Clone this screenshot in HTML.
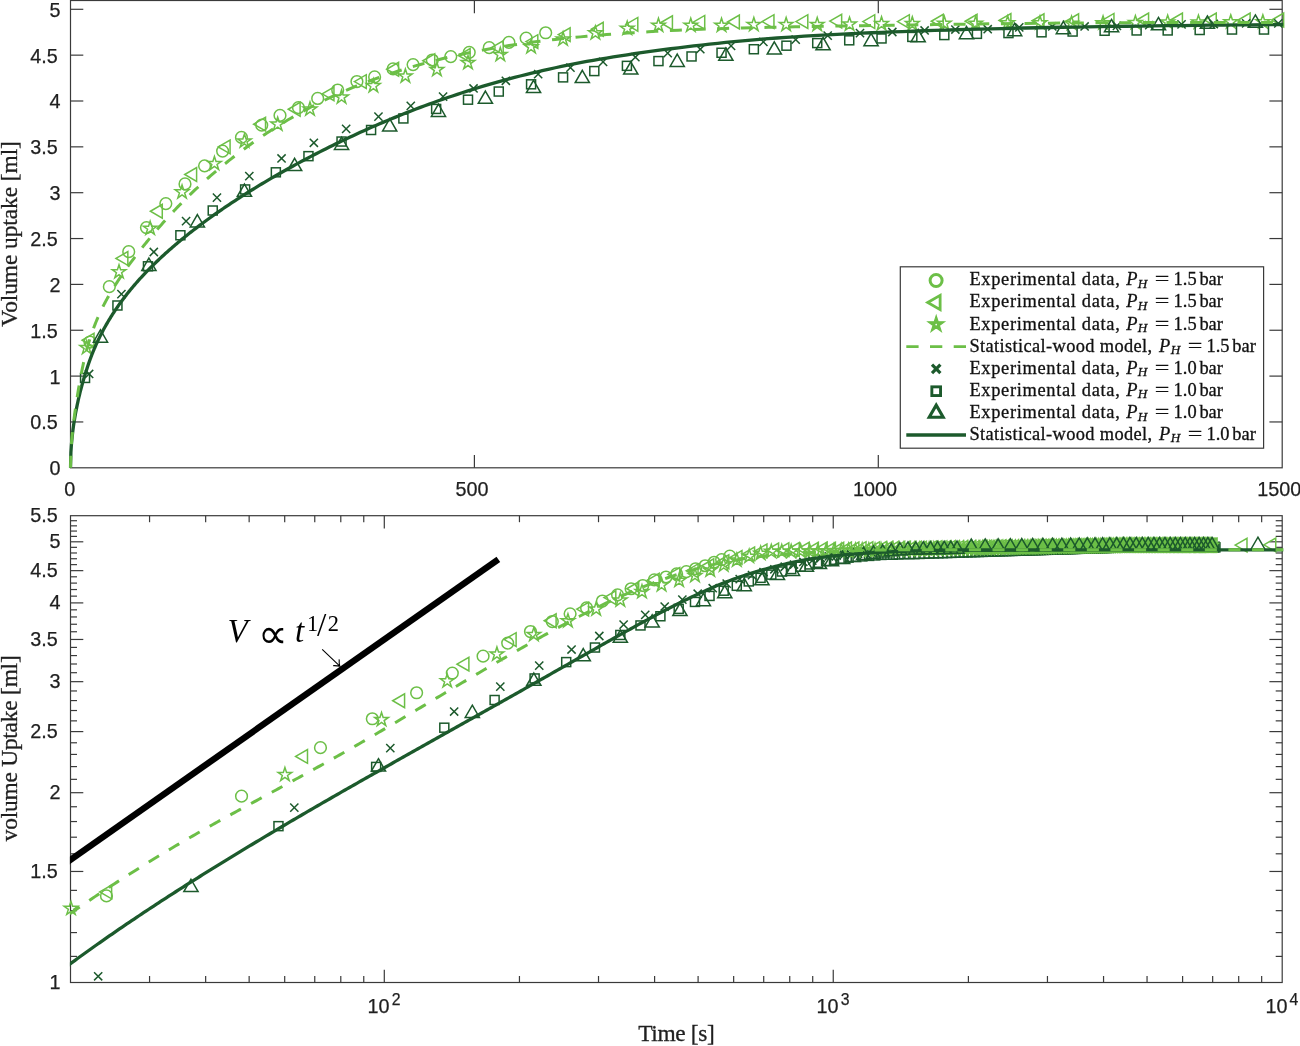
<!DOCTYPE html>
<html lang="en"><head><meta charset="utf-8"><title>Volume uptake</title>
<style>html,body{margin:0;padding:0;background:#fff}svg{display:block}text{font-kerning:normal}</style></head><body>
<svg width="1300" height="1046" viewBox="0 0 1300 1046">
<rect width="1300" height="1046" fill="#fff"/>
<!-- top panel: linear axes -->
<clipPath id="c1"><rect x="68.5" y="-1.5" width="1214.7" height="469.9"/></clipPath>
<clipPath id="c2"><rect x="69.9" y="513.7" width="1213.3" height="470.8"/></clipPath>
<rect x="70.5" y="0.5" width="1211.7" height="467.3" fill="none" stroke="#3a3a3a" stroke-width="1.2"/>
<line x1="474.4" y1="467.8" x2="474.4" y2="455" stroke="#3a3a3a" stroke-width="1.2"/>
<line x1="474.4" y1="0.5" x2="474.4" y2="13.3" stroke="#3a3a3a" stroke-width="1.2"/>
<line x1="878.3" y1="467.8" x2="878.3" y2="455" stroke="#3a3a3a" stroke-width="1.2"/>
<line x1="878.3" y1="0.5" x2="878.3" y2="13.3" stroke="#3a3a3a" stroke-width="1.2"/>
<line x1="70.5" y1="421.95" x2="83.3" y2="421.95" stroke="#3a3a3a" stroke-width="1.2"/>
<line x1="1282.2" y1="421.95" x2="1269.4" y2="421.95" stroke="#3a3a3a" stroke-width="1.2"/>
<line x1="70.5" y1="376.1" x2="83.3" y2="376.1" stroke="#3a3a3a" stroke-width="1.2"/>
<line x1="1282.2" y1="376.1" x2="1269.4" y2="376.1" stroke="#3a3a3a" stroke-width="1.2"/>
<line x1="70.5" y1="330.25" x2="83.3" y2="330.25" stroke="#3a3a3a" stroke-width="1.2"/>
<line x1="1282.2" y1="330.25" x2="1269.4" y2="330.25" stroke="#3a3a3a" stroke-width="1.2"/>
<line x1="70.5" y1="284.4" x2="83.3" y2="284.4" stroke="#3a3a3a" stroke-width="1.2"/>
<line x1="1282.2" y1="284.4" x2="1269.4" y2="284.4" stroke="#3a3a3a" stroke-width="1.2"/>
<line x1="70.5" y1="238.55" x2="83.3" y2="238.55" stroke="#3a3a3a" stroke-width="1.2"/>
<line x1="1282.2" y1="238.55" x2="1269.4" y2="238.55" stroke="#3a3a3a" stroke-width="1.2"/>
<line x1="70.5" y1="192.7" x2="83.3" y2="192.7" stroke="#3a3a3a" stroke-width="1.2"/>
<line x1="1282.2" y1="192.7" x2="1269.4" y2="192.7" stroke="#3a3a3a" stroke-width="1.2"/>
<line x1="70.5" y1="146.85" x2="83.3" y2="146.85" stroke="#3a3a3a" stroke-width="1.2"/>
<line x1="1282.2" y1="146.85" x2="1269.4" y2="146.85" stroke="#3a3a3a" stroke-width="1.2"/>
<line x1="70.5" y1="101" x2="83.3" y2="101" stroke="#3a3a3a" stroke-width="1.2"/>
<line x1="1282.2" y1="101" x2="1269.4" y2="101" stroke="#3a3a3a" stroke-width="1.2"/>
<line x1="70.5" y1="55.15" x2="83.3" y2="55.15" stroke="#3a3a3a" stroke-width="1.2"/>
<line x1="1282.2" y1="55.15" x2="1269.4" y2="55.15" stroke="#3a3a3a" stroke-width="1.2"/>
<line x1="70.5" y1="9.3" x2="83.3" y2="9.3" stroke="#3a3a3a" stroke-width="1.2"/>
<line x1="1282.2" y1="9.3" x2="1269.4" y2="9.3" stroke="#3a3a3a" stroke-width="1.2"/>
<g fill="none" stroke="#6cbf47" stroke-width="1.5" stroke-linejoin="miter">
<circle cx="89.93" cy="341.99" r="5.85"/><circle cx="109.34" cy="286.7" r="5.85"/><circle cx="128.72" cy="251.64" r="5.85"/><circle cx="146.46" cy="227.55" r="5.85"/><circle cx="165.84" cy="203.62" r="5.85"/><circle cx="184.99" cy="183.93" r="5.85"/><circle cx="204.57" cy="165.83" r="5.85"/><circle cx="222.61" cy="151.06" r="5.85"/><circle cx="241.45" cy="137.42" r="5.85"/><circle cx="261.72" cy="125.14" r="5.85"/><circle cx="280" cy="115.38" r="5.85"/><circle cx="298.46" cy="107.69" r="5.85"/><circle cx="317.69" cy="98.46" r="5.85"/><circle cx="337.69" cy="90" r="5.85"/><circle cx="356.92" cy="81.54" r="5.85"/><circle cx="374.62" cy="76.92" r="5.85"/><circle cx="393.08" cy="68.92" r="5.85"/><circle cx="413.08" cy="64.62" r="5.85"/><circle cx="432.31" cy="60" r="5.85"/><circle cx="450.77" cy="56.62" r="5.85"/><circle cx="469.23" cy="52.31" r="5.85"/><circle cx="489.23" cy="47.69" r="5.85"/><circle cx="508.92" cy="42.31" r="5.85"/><circle cx="526.15" cy="38.15" r="5.85"/><circle cx="545.69" cy="32.77" r="5.85"/>
</g>
<g fill="none" stroke="#6cbf47" stroke-width="1.5" stroke-linejoin="miter">
<path d="M82.14 340.15L94 333.3L94 347Z"/><path d="M115.97 258.45L127.84 251.6L127.84 265.3Z"/><path d="M150.42 211.23L162.28 204.38L162.28 218.08Z"/><path d="M184.74 174.52L196.6 167.67L196.6 181.37Z"/><path d="M218.22 146.94L230.08 140.09L230.08 153.79Z"/><path d="M253.66 124.17L265.52 117.32L265.52 131.02Z"/><path d="M288.24 109.23L300.11 102.38L300.11 116.08Z"/><path d="M322.09 93.85L333.95 87L333.95 100.7Z"/><path d="M354.4 81.54L366.26 74.69L366.26 88.39Z"/><path d="M386.71 69.23L398.57 62.38L398.57 76.08Z"/><path d="M422.86 60.77L434.72 53.92L434.72 67.62Z"/><path d="M458.24 55.38L470.11 48.53L470.11 62.23Z"/><path d="M491.32 47.69L503.19 40.84L503.19 54.54Z"/><path d="M525.94 41.54L537.8 34.69L537.8 48.39Z"/><path d="M558.24 34.62L570.11 27.77L570.11 41.47Z"/><path d="M591.32 29.23L603.19 22.38L603.19 36.08Z"/><path d="M625.94 24.31L637.8 17.46L637.8 31.16Z"/><path d="M660.55 22.77L672.42 15.92L672.42 29.62Z"/><path d="M692.86 22.31L704.72 15.46L704.72 29.16Z"/><path d="M727.48 22L739.34 15.15L739.34 28.85Z"/><path d="M762.09 21.54L773.95 14.69L773.95 28.39Z"/><path d="M795.94 21.54L807.8 14.69L807.8 28.39Z"/><path d="M829.78 21.08L841.65 14.23L841.65 27.93Z"/><path d="M862.86 21.54L874.72 14.69L874.72 28.39Z"/><path d="M897.48 21.54L909.34 14.69L909.34 28.39Z"/><path d="M931.32 21.23L943.19 14.38L943.19 28.08Z"/><path d="M965.17 21.23L977.03 14.38L977.03 28.08Z"/><path d="M999.01 20.46L1010.88 13.61L1010.88 27.31Z"/><path d="M1032.09 20.77L1043.95 13.92L1043.95 27.62Z"/><path d="M1066.71 20.77L1078.57 13.92L1078.57 27.62Z"/><path d="M1102.09 20.31L1113.95 13.46L1113.95 27.16Z"/><path d="M1136.71 20L1148.57 13.15L1148.57 26.85Z"/><path d="M1170.55 20L1182.42 13.15L1182.42 26.85Z"/><path d="M1204.4 20L1216.26 13.15L1216.26 26.85Z"/><path d="M1238.24 20L1250.11 13.15L1250.11 26.85Z"/><path d="M1271.77 20L1283.63 13.15L1283.63 26.85Z"/>
</g>
<g fill="none" stroke="#6cbf47" stroke-width="1.5" stroke-linejoin="miter">
<path d="M86.7 340.47L88.31 345.45L93.54 345.45L89.31 348.52L90.93 353.5L86.7 350.42L82.46 353.5L84.08 348.52L79.85 345.45L85.08 345.45Z"/><path d="M119.02 264.68L120.64 269.65L125.87 269.65L121.64 272.73L123.25 277.7L119.02 274.63L114.79 277.7L116.41 272.73L112.18 269.65L117.41 269.65Z"/><path d="M150.14 221.16L151.76 226.14L156.99 226.14L152.76 229.21L154.38 234.19L150.14 231.11L145.91 234.19L147.53 229.21L143.3 226.14L148.53 226.14Z"/><path d="M182.05 184.9L183.67 189.87L188.9 189.87L184.67 192.95L186.28 197.92L182.05 194.85L177.82 197.92L179.44 192.95L175.2 189.87L180.43 189.87Z"/><path d="M214.43 156.41L216.05 161.39L221.28 161.39L217.05 164.46L218.66 169.44L214.43 166.36L210.2 169.44L211.82 164.46L207.58 161.39L212.82 161.39Z"/><path d="M244.44 133.92L246.06 138.89L251.29 138.89L247.06 141.97L248.67 146.94L244.44 143.87L240.21 146.94L241.83 141.97L237.59 138.89L242.82 138.89Z"/><path d="M277.69 117.11L279.31 122.08L284.54 122.08L280.31 125.16L281.92 130.13L277.69 127.06L273.46 130.13L275.08 125.16L270.84 122.08L276.08 122.08Z"/><path d="M310 102.03L311.62 107.01L316.85 107.01L312.62 110.08L314.23 115.06L310 111.98L305.77 115.06L307.38 110.08L303.15 107.01L308.38 107.01Z"/><path d="M341.54 90.03L343.16 95.01L348.39 95.01L344.15 98.08L345.77 103.06L341.54 99.98L337.31 103.06L338.92 98.08L334.69 95.01L339.92 95.01Z"/><path d="M373.38 78.65L375 83.62L380.23 83.62L376 86.7L377.62 91.67L373.38 88.6L369.15 91.67L370.77 86.7L366.54 83.62L371.77 83.62Z"/><path d="M405.38 68.95L407 73.93L412.23 73.93L408 77L409.62 81.98L405.38 78.9L401.15 81.98L402.77 77L398.54 73.93L403.77 73.93Z"/><path d="M436.92 62.49L438.54 67.47L443.77 67.47L439.54 70.54L441.16 75.52L436.92 72.44L432.69 75.52L434.31 70.54L430.08 67.47L435.31 67.47Z"/><path d="M468 55.57L469.62 60.54L474.85 60.54L470.62 63.62L472.23 68.59L468 65.52L463.77 68.59L465.38 63.62L461.15 60.54L466.38 60.54Z"/><path d="M500.31 47.42L501.92 52.39L507.16 52.39L502.92 55.47L504.54 60.44L500.31 57.37L496.08 60.44L497.69 55.47L493.46 52.39L498.69 52.39Z"/><path d="M531.08 39.72L532.69 44.7L537.92 44.7L533.69 47.77L535.31 52.75L531.08 49.67L526.84 52.75L528.46 47.77L524.23 44.7L529.46 44.7Z"/><path d="M563.08 32.03L564.69 37.01L569.92 37.01L565.69 40.08L567.31 45.06L563.08 41.98L558.84 45.06L560.46 40.08L556.23 37.01L561.46 37.01Z"/><path d="M595.38 25.88L597 30.85L602.23 30.85L598 33.93L599.62 38.9L595.38 35.83L591.15 38.9L592.77 33.93L588.54 30.85L593.77 30.85Z"/><path d="M627.23 21.26L628.85 26.24L634.08 26.24L629.85 29.31L631.46 34.29L627.23 31.21L623 34.29L624.61 29.31L620.38 26.24L625.61 26.24Z"/><path d="M658.46 18.18L660.08 23.16L665.31 23.16L661.08 26.23L662.69 31.21L658.46 28.14L654.23 31.21L655.85 26.23L651.61 23.16L656.84 23.16Z"/><path d="M690.77 18.18L692.39 23.16L697.62 23.16L693.39 26.23L695 31.21L690.77 28.14L686.54 31.21L688.15 26.23L683.92 23.16L689.15 23.16Z"/><path d="M721.54 18.18L723.16 23.16L728.39 23.16L724.15 26.23L725.77 31.21L721.54 28.14L717.31 31.21L718.92 26.23L714.69 23.16L719.92 23.16Z"/><path d="M753.85 17.42L755.46 22.39L760.69 22.39L756.46 25.47L758.08 30.44L753.85 27.37L749.61 30.44L751.23 25.47L747 22.39L752.23 22.39Z"/><path d="M786.15 17.42L787.77 22.39L793 22.39L788.77 25.47L790.39 30.44L786.15 27.37L781.92 30.44L783.54 25.47L779.31 22.39L784.54 22.39Z"/><path d="M817.23 17.42L818.85 22.39L824.08 22.39L819.85 25.47L821.46 30.44L817.23 27.37L813 30.44L814.61 25.47L810.38 22.39L815.61 22.39Z"/><path d="M849.54 17.11L851.16 22.08L856.39 22.08L852.15 25.16L853.77 30.13L849.54 27.06L845.31 30.13L846.92 25.16L842.69 22.08L847.92 22.08Z"/><path d="M881.54 16.65L883.16 21.62L888.39 21.62L884.15 24.7L885.77 29.67L881.54 26.6L877.31 29.67L878.92 24.7L874.69 21.62L879.92 21.62Z"/><path d="M912.31 16.65L913.92 21.62L919.16 21.62L914.92 24.7L916.54 29.67L912.31 26.6L908.08 29.67L909.69 24.7L905.46 21.62L910.69 21.62Z"/><path d="M944.31 16.18L945.92 21.16L951.16 21.16L946.92 24.23L948.54 29.21L944.31 26.14L940.08 29.21L941.69 24.23L937.46 21.16L942.69 21.16Z"/><path d="M975.69 16.18L977.31 21.16L982.54 21.16L978.31 24.23L979.92 29.21L975.69 26.14L971.46 29.21L973.08 24.23L968.84 21.16L974.08 21.16Z"/><path d="M1007.69 15.88L1009.31 20.85L1014.54 20.85L1010.31 23.93L1011.92 28.9L1007.69 25.83L1003.46 28.9L1005.08 23.93L1000.84 20.85L1006.08 20.85Z"/><path d="M1040 15.88L1041.62 20.85L1046.85 20.85L1042.62 23.93L1044.23 28.9L1040 25.83L1035.77 28.9L1037.38 23.93L1033.15 20.85L1038.38 20.85Z"/><path d="M1071.54 16.18L1073.16 21.16L1078.39 21.16L1074.15 24.23L1075.77 29.21L1071.54 26.14L1067.31 29.21L1068.92 24.23L1064.69 21.16L1069.92 21.16Z"/><path d="M1103.08 15.88L1104.69 20.85L1109.92 20.85L1105.69 23.93L1107.31 28.9L1103.08 25.83L1098.84 28.9L1100.46 23.93L1096.23 20.85L1101.46 20.85Z"/><path d="M1135.38 15.57L1137 20.54L1142.23 20.54L1138 23.62L1139.62 28.59L1135.38 25.52L1131.15 28.59L1132.77 23.62L1128.54 20.54L1133.77 20.54Z"/><path d="M1167.69 15.11L1169.31 20.08L1174.54 20.08L1170.31 23.16L1171.92 28.13L1167.69 25.06L1163.46 28.13L1165.08 23.16L1160.84 20.08L1166.08 20.08Z"/><path d="M1198.46 15.11L1200.08 20.08L1205.31 20.08L1201.08 23.16L1202.69 28.13L1198.46 25.06L1194.23 28.13L1195.85 23.16L1191.61 20.08L1196.84 20.08Z"/><path d="M1230.77 14.8L1232.39 19.77L1237.62 19.78L1233.39 22.85L1235 27.82L1230.77 24.75L1226.54 27.82L1228.15 22.85L1223.92 19.78L1229.15 19.77Z"/><path d="M1262.84 14.8L1264.46 19.77L1269.69 19.78L1265.45 22.85L1267.07 27.82L1262.84 24.75L1258.61 27.82L1260.22 22.85L1255.99 19.78L1261.22 19.77Z"/>
</g>
<g fill="none" stroke="#1c5a2c" stroke-width="1.5" stroke-linejoin="miter">
<path d="M85.02 369.89L93.22 378.09M85.02 378.09L93.22 369.89"/><path d="M117.32 290.07L125.52 298.27M117.32 298.27L125.52 290.07"/><path d="M149.71 247.9L157.91 256.1M149.71 256.1L157.91 247.9"/><path d="M181.98 217.03L190.18 225.23M181.98 225.23L190.18 217.03"/><path d="M212.85 193.52L221.05 201.72M212.85 201.72L221.05 193.52"/><path d="M245.21 172.07L253.41 180.27M245.21 180.27L253.41 172.07"/><path d="M277.44 154.36L285.64 162.56M277.44 162.56L285.64 154.36"/><path d="M309.75 138.67L317.95 146.87M309.75 146.87L317.95 138.67"/><path d="M342.05 124.82L350.25 133.02M342.05 133.02L350.25 124.82"/><path d="M374.36 112.52L382.56 120.72M374.36 120.72L382.56 112.52"/><path d="M406.67 101.75L414.87 109.95M406.67 109.95L414.87 101.75"/><path d="M438.98 92.52L447.18 100.72M438.98 100.72L447.18 92.52"/><path d="M469.44 84.36L477.64 92.56M469.44 92.56L477.64 84.36"/><path d="M501.75 76.67L509.95 84.87M501.75 84.87L509.95 76.67"/><path d="M534.05 70.05L542.25 78.25M534.05 78.25L542.25 70.05"/><path d="M566.36 63.59L574.56 71.79M566.36 71.79L574.56 63.59"/><path d="M598.98 57.75L607.18 65.95M598.98 65.95L607.18 57.75"/><path d="M631.28 53.13L639.48 61.33M631.28 61.33L639.48 53.13"/><path d="M663.59 48.98L671.79 57.18M663.59 57.18L671.79 48.98"/><path d="M696.21 45.13L704.41 53.33M696.21 53.33L704.41 45.13"/><path d="M726.98 41.75L735.18 49.95M726.98 49.95L735.18 41.75"/><path d="M759.28 37.75L767.48 45.95M759.28 45.95L767.48 37.75"/><path d="M791.59 35.59L799.79 43.79M791.59 43.79L799.79 35.59"/><path d="M823.59 31.59L831.79 39.79M823.59 39.79L831.79 31.59"/><path d="M855.9 28.98L864.1 37.18M855.9 37.18L864.1 28.98"/><path d="M888.21 27.9L896.41 36.1M888.21 36.1L896.41 27.9"/><path d="M920.52 26.36L928.72 34.56M920.52 34.56L928.72 26.36"/><path d="M951.28 25.44L959.48 33.64M951.28 33.64L959.48 25.44"/><path d="M983.59 25.13L991.79 33.33M983.59 33.33L991.79 25.13"/><path d="M1015.13 23.28L1023.33 31.48M1015.13 31.48L1023.33 23.28"/><path d="M1048.21 22.36L1056.41 30.56M1048.21 30.56L1056.41 22.36"/><path d="M1080.52 22.36L1088.72 30.56M1080.52 30.56L1088.72 22.36"/><path d="M1112.82 21.75L1121.02 29.95M1112.82 29.95L1121.02 21.75"/><path d="M1145.13 21.13L1153.33 29.33M1145.13 29.33L1153.33 21.13"/><path d="M1177.44 20.21L1185.64 28.41M1177.44 28.41L1185.64 20.21"/><path d="M1209.75 19.9L1217.95 28.1M1209.75 28.1L1217.95 19.9"/><path d="M1242.05 19.28L1250.25 27.48M1242.05 27.48L1250.25 19.28"/><path d="M1274.2 19.28L1282.4 27.48M1274.2 27.48L1282.4 19.28"/>
</g>
<g fill="none" stroke="#1c5a2c" stroke-width="1.5" stroke-linejoin="miter">
<rect x="80.54" y="373.43" width="9.0" height="9.0"/><rect x="112.94" y="300.99" width="9.0" height="9.0"/><rect x="143.47" y="261.8" width="9.0" height="9.0"/><rect x="175.89" y="230.76" width="9.0" height="9.0"/><rect x="208.24" y="206.01" width="9.0" height="9.0"/><rect x="240.63" y="184.95" width="9.0" height="9.0"/><rect x="271.35" y="167.81" width="9.0" height="9.0"/><rect x="303.96" y="151.65" width="9.0" height="9.0"/><rect x="337.04" y="137.04" width="9.0" height="9.0"/><rect x="366.58" y="125.5" width="9.0" height="9.0"/><rect x="398.88" y="113.96" width="9.0" height="9.0"/><rect x="431.65" y="104.42" width="9.0" height="9.0"/><rect x="463.5" y="95.19" width="9.0" height="9.0"/><rect x="494.27" y="87.04" width="9.0" height="9.0"/><rect x="526.58" y="79.81" width="9.0" height="9.0"/><rect x="558.58" y="72.88" width="9.0" height="9.0"/><rect x="589.81" y="66.58" width="9.0" height="9.0"/><rect x="622.42" y="61.35" width="9.0" height="9.0"/><rect x="653.96" y="56.58" width="9.0" height="9.0"/><rect x="687.04" y="51.96" width="9.0" height="9.0"/><rect x="717.04" y="48.27" width="9.0" height="9.0"/><rect x="749.35" y="44.73" width="9.0" height="9.0"/><rect x="781.96" y="41.19" width="9.0" height="9.0"/><rect x="812.73" y="38.58" width="9.0" height="9.0"/><rect x="844.73" y="35.81" width="9.0" height="9.0"/><rect x="877.04" y="33.96" width="9.0" height="9.0"/><rect x="907.81" y="32.42" width="9.0" height="9.0"/><rect x="939.81" y="30.58" width="9.0" height="9.0"/><rect x="972.42" y="29.35" width="9.0" height="9.0"/><rect x="1003.96" y="28.58" width="9.0" height="9.0"/><rect x="1037.04" y="27.81" width="9.0" height="9.0"/><rect x="1068.12" y="27.04" width="9.0" height="9.0"/><rect x="1100.12" y="26.27" width="9.0" height="9.0"/><rect x="1132.12" y="25.96" width="9.0" height="9.0"/><rect x="1163.19" y="25.96" width="9.0" height="9.0"/><rect x="1195.19" y="25.5" width="9.0" height="9.0"/><rect x="1227.5" y="25.04" width="9.0" height="9.0"/><rect x="1259.49" y="25.04" width="9.0" height="9.0"/>
</g>
<g fill="none" stroke="#1c5a2c" stroke-width="1.5" stroke-linejoin="miter">
<path d="M100.47 329.85L107.57 342.14L93.37 342.14Z"/><path d="M148.9 258.1L156 270.4L141.8 270.4Z"/><path d="M197.36 214.58L204.46 226.88L190.26 226.88Z"/><path d="M244.44 184.06L251.54 196.35L237.34 196.35Z"/><path d="M294.62 158.26L301.72 170.56L287.52 170.56Z"/><path d="M341.54 137.19L348.64 149.48L334.44 149.48Z"/><path d="M389.69 118.72L396.79 131.02L382.59 131.02Z"/><path d="M438.46 104.11L445.56 116.41L431.36 116.41Z"/><path d="M485.38 91.03L492.48 103.33L478.28 103.33Z"/><path d="M533.54 80.26L540.64 92.56L526.44 92.56Z"/><path d="M582.31 70.26L589.41 82.56L575.21 82.56Z"/><path d="M630.77 61.8L637.87 74.1L623.67 74.1Z"/><path d="M677.23 54.11L684.33 66.41L670.13 66.41Z"/><path d="M725.85 47.96L732.95 60.25L718.75 60.25Z"/><path d="M774.31 41.8L781.41 54.1L767.21 54.1Z"/><path d="M823.08 37.49L830.18 49.79L815.98 49.79Z"/><path d="M871.08 33.34L878.18 45.64L863.98 45.64Z"/><path d="M918.15 29.49L925.25 41.79L911.05 41.79Z"/><path d="M966.46 26.42L973.56 38.71L959.36 38.71Z"/><path d="M1014.62 23.34L1021.72 35.64L1007.52 35.64Z"/><path d="M1063.38 21.34L1070.48 33.64L1056.28 33.64Z"/><path d="M1111.54 19.49L1118.64 31.79L1104.44 31.79Z"/><path d="M1158.46 17.49L1165.56 29.79L1151.36 29.79Z"/><path d="M1207.38 15.96L1214.48 28.25L1200.28 28.25Z"/><path d="M1255.38 14.88L1262.48 27.18L1248.28 27.18Z"/>
</g>
<g clip-path="url(#c1)">
<path d="M70.5 467.8L70.9 452.49L71.31 446.13L71.71 441.25L72.12 437.12L72.52 433.48L72.92 430.19L73.33 427.15L73.73 424.32L74.14 421.66L74.54 419.14L74.94 416.74L75.35 414.44L75.75 412.24L76.15 410.12L76.56 408.06L76.96 406.08L77.37 404.15L77.77 402.28L78.17 400.45L78.58 398.68L78.98 396.94L79.39 395.25L79.79 393.59L80.19 391.97L80.6 390.38L81 388.82L81.41 387.29L81.81 385.79L82.21 384.32L82.62 382.87L83.02 381.44L83.42 380.04L83.83 378.66L84.23 377.3L84.64 375.96L85.04 374.64L85.44 373.35L85.85 372.07L86.25 370.81L86.66 369.57L86.86 368.92L87.07 368.27L87.28 367.62L87.49 366.97L87.7 366.32L87.92 365.66L88.14 365L88.36 364.35L88.59 363.69L88.82 363.02L89.05 362.36L89.28 361.69L89.52 361.03L89.76 360.36L90 359.69L90.25 359.01L90.5 358.34L90.75 357.66L91.01 356.98L91.27 356.3L91.53 355.62L91.79 354.93L92.06 354.25L92.34 353.56L92.61 352.87L92.89 352.18L93.17 351.48L93.46 350.78L93.75 350.09L94.04 349.38L94.34 348.68L94.64 347.98L94.95 347.27L95.26 346.56L95.57 345.85L95.89 345.13L96.21 344.42L96.53 343.7L96.86 342.98L97.19 342.25L97.53 341.53L97.87 340.8L98.22 340.07L98.57 339.33L98.92 338.6L99.28 337.86L99.64 337.12L100.01 336.38L100.38 335.63L100.76 334.89L101.14 334.14L101.53 333.38L101.92 332.63L102.32 331.87L102.72 331.11L103.13 330.34L103.54 329.58L103.96 328.81L104.38 328.04L104.81 327.26L105.24 326.49L105.68 325.71L106.13 324.93L106.58 324.14L107.03 323.35L107.49 322.56L107.96 321.77L108.43 320.97L108.91 320.17L109.4 319.37L109.89 318.56L110.39 317.76L110.89 316.94L111.4 316.13L111.92 315.31L112.44 314.49L112.97 313.67L113.51 312.84L114.05 312.01L114.6 311.18L115.16 310.35L115.72 309.51L116.29 308.66L116.87 307.82L117.46 306.97L118.05 306.12L118.65 305.26L119.26 304.41L119.87 303.54L120.5 302.68L121.13 301.81L121.77 300.94L122.42 300.06L123.07 299.19L123.74 298.31L124.41 297.42L125.09 296.53L125.78 295.64L126.48 294.74L127.18 293.85L127.9 292.94L128.62 292.04L129.36 291.13L130.1 290.21L130.85 289.3L131.62 288.38L132.39 287.45L133.17 286.53L133.96 285.59L134.76 284.66L135.58 283.72L136.4 282.78L137.23 281.83L138.07 280.88L138.93 279.93L139.79 278.97L140.67 278.01L141.55 277.04L142.45 276.07L143.36 275.1L144.28 274.12L145.21 273.13L146.15 272.15L147.11 271.15L148.08 270.16L149.06 269.16L150.05 268.15L151.05 267.14L152.07 266.13L153.1 265.11L154.15 264.09L155.2 263.06L156.27 262.03L157.36 260.99L158.45 259.94L159.56 258.9L160.69 257.84L161.83 256.79L162.98 255.72L164.15 254.66L165.33 253.58L166.53 252.5L167.74 251.42L168.97 250.33L170.22 249.24L171.47 248.14L172.75 247.03L174.04 245.92L175.35 244.81L176.67 243.68L178.01 242.56L179.37 241.42L180.75 240.28L182.14 239.14L183.55 237.99L184.98 236.83L186.42 235.67L187.89 234.5L189.37 233.33L190.87 232.15L192.39 230.96L193.93 229.77L195.49 228.57L197.07 227.36L198.67 226.15L200.29 224.93L201.93 223.71L203.59 222.48L205.27 221.24L206.97 220L208.7 218.75L210.44 217.49L212.21 216.22L214 214.95L215.81 213.68L217.65 212.39L219.5 211.1L221.39 209.8L223.29 208.5L225.22 207.18L227.18 205.87L229.16 204.54L231.16 203.21L233.19 201.86L235.24 200.52L237.32 199.16L239.43 197.8L241.57 196.43L243.73 195.05L245.91 193.67L248.13 192.27L250.37 190.87L252.65 189.47L254.95 188.05L257.28 186.63L259.64 185.2L262.02 183.76L264.44 182.32L266.89 180.87L269.37 179.41L271.89 177.94L274.43 176.46L277.01 174.98L279.61 173.49L282.26 172L284.93 170.49L287.64 168.98L290.38 167.46L293.16 165.94L295.97 164.4L298.82 162.86L301.7 161.31L304.62 159.76L307.58 158.2L310.57 156.63L313.61 155.06L316.68 153.48L319.79 151.89L322.94 150.29L326.12 148.69L329.35 147.08L332.62 145.46L335.93 143.84L339.29 142.21L342.68 140.58L346.12 138.94L349.6 137.3L353.13 135.65L356.7 134L360.31 132.34L363.97 130.69L367.68 129.03L371.43 127.36L375.23 125.7L379.08 124.04L382.98 122.37L386.93 120.7L390.92 119.04L394.97 117.37L399.07 115.7L403.22 114.04L407.42 112.38L411.68 110.72L415.99 109.06L420.35 107.4L424.77 105.75L429.24 104.1L433.78 102.46L438.36 100.82L443.01 99.19L447.72 97.56L452.48 95.95L457.31 94.34L462.19 92.74L467.14 91.15L472.15 89.57L477.22 88L482.36 86.45L487.56 84.91L492.83 83.38L498.16 81.87L503.57 80.38L509.04 78.9L514.57 77.43L520.18 75.99L525.86 74.57L531.62 73.16L537.44 71.78L543.34 70.41L549.31 69.07L555.36 67.75L561.48 66.45L567.68 65.18L573.96 63.93L580.32 62.7L586.76 61.49L593.28 60.32L599.89 59.16L606.57 58.03L613.34 56.92L620.2 55.84L627.14 54.77L634.18 53.72L641.3 52.7L648.51 51.68L655.81 50.69L663.2 49.71L670.69 48.74L678.27 47.79L685.94 46.86L693.72 45.94L701.59 45.03L709.56 44.15L717.63 43.29L725.81 42.45L734.08 41.63L742.46 40.85L750.95 40.09L759.55 39.37L768.25 38.68L777.06 38.02L785.99 37.39L795.03 36.79L804.18 36.22L813.44 35.67L822.83 35.14L832.33 34.63L841.95 34.14L851.7 33.66L861.57 33.2L871.56 32.76L881.68 32.34L891.92 31.92L902.3 31.53L912.8 31.14L923.44 30.77L934.22 30.42L945.13 30.07L956.17 29.74L967.36 29.42L978.69 29.12L990.16 28.82L1001.78 28.54L1013.54 28.26L1025.45 28L1037.51 27.75L1049.73 27.5L1062.1 27.27L1074.62 27.05L1087.3 26.83L1100.15 26.62L1113.15 26.42L1126.32 26.23L1139.66 26.04L1153.16 25.87L1166.84 25.69L1180.68 25.53L1194.71 25.37L1208.91 25.21L1223.29 25.06L1237.85 24.92L1252.59 24.78L1267.52 24.64L1282.64 24.51L1297.95 24.38L1313.46 24.25L1329.16 24.13L1345.06 24.02L1361.15 23.91" fill="none" stroke="#1c5a2c" stroke-width="3.3" stroke-linejoin="round"/>
<path d="M70.5 467.8L70.9 452.23L71.31 445.58L71.71 440.36L72.12 435.85L72.52 431.78L72.92 428.04L73.33 424.52L73.73 421.19L74.14 418.01L74.54 414.95L74.94 412L75.35 409.14L75.75 406.36L76.15 403.65L76.56 401.01L76.96 398.42L77.37 395.9L77.77 393.42L78.17 391L78.58 388.62L78.98 386.28L79.39 383.99L79.79 381.74L80.19 379.54L80.6 377.37L81 375.24L81.41 373.15L81.81 371.1L82.21 369.09L82.62 367.12L83.02 365.19L83.42 363.3L83.83 361.44L84.23 359.63L84.64 357.86L85.04 356.14L85.44 354.46L85.85 352.83L86.25 351.25L86.66 349.74L86.86 349L87.07 348.27L87.28 347.53L87.49 346.79L87.7 346.05L87.92 345.31L88.14 344.57L88.36 343.82L88.59 343.07L88.82 342.32L89.05 341.57L89.28 340.82L89.52 340.06L89.76 339.31L90 338.55L90.25 337.79L90.5 337.03L90.75 336.27L91.01 335.5L91.27 334.74L91.53 333.97L91.79 333.2L92.06 332.43L92.34 331.66L92.61 330.88L92.89 330.11L93.17 329.33L93.46 328.55L93.75 327.77L94.04 326.99L94.34 326.21L94.64 325.43L94.95 324.64L95.26 323.86L95.57 323.07L95.89 322.28L96.21 321.49L96.53 320.7L96.86 319.91L97.19 319.12L97.53 318.32L97.87 317.53L98.22 316.73L98.57 315.93L98.92 315.14L99.28 314.34L99.64 313.54L100.01 312.73L100.38 311.93L100.76 311.13L101.14 310.32L101.53 309.52L101.92 308.71L102.32 307.9L102.72 307.09L103.13 306.28L103.54 305.47L103.96 304.66L104.38 303.84L104.81 303.03L105.24 302.21L105.68 301.39L106.13 300.56L106.58 299.74L107.03 298.91L107.49 298.08L107.96 297.24L108.43 296.41L108.91 295.57L109.4 294.73L109.89 293.88L110.39 293.03L110.89 292.18L111.4 291.33L111.92 290.47L112.44 289.61L112.97 288.74L113.51 287.87L114.05 287L114.6 286.12L115.16 285.23L115.72 284.35L116.29 283.45L116.87 282.56L117.46 281.66L118.05 280.75L118.65 279.84L119.26 278.92L119.87 278L120.5 277.07L121.13 276.14L121.77 275.2L122.42 274.26L123.07 273.31L123.74 272.35L124.41 271.39L125.09 270.42L125.78 269.45L126.48 268.47L127.18 267.48L127.9 266.49L128.62 265.49L129.36 264.48L130.1 263.46L130.85 262.44L131.62 261.41L132.39 260.38L133.17 259.33L133.96 258.28L134.76 257.22L135.58 256.15L136.4 255.08L137.23 253.99L138.07 252.9L138.93 251.8L139.79 250.69L140.67 249.58L141.55 248.45L142.45 247.32L143.36 246.17L144.28 245.02L145.21 243.86L146.15 242.69L147.11 241.51L148.08 240.33L149.06 239.13L150.05 237.93L151.05 236.71L152.07 235.49L153.1 234.27L154.15 233.03L155.2 231.78L156.27 230.53L157.36 229.27L158.45 228L159.56 226.72L160.69 225.44L161.83 224.14L162.98 222.84L164.15 221.53L165.33 220.22L166.53 218.89L167.74 217.56L168.97 216.23L170.22 214.88L171.47 213.53L172.75 212.17L174.04 210.8L175.35 209.42L176.67 208.04L178.01 206.65L179.37 205.26L180.75 203.85L182.14 202.44L183.55 201.03L184.98 199.6L186.42 198.18L187.89 196.74L189.37 195.3L190.87 193.85L192.39 192.39L193.93 190.93L195.49 189.46L197.07 187.99L198.67 186.51L200.29 185.02L201.93 183.53L203.59 182.03L205.27 180.52L206.97 179.01L208.7 177.5L210.44 175.97L212.21 174.45L214 172.91L215.81 171.37L217.65 169.83L219.5 168.28L221.39 166.72L223.29 165.16L225.22 163.6L227.18 162.03L229.16 160.45L231.16 158.87L233.19 157.28L235.24 155.69L237.32 154.1L239.43 152.5L241.57 150.89L243.73 149.28L245.91 147.67L248.13 146.05L250.37 144.43L252.65 142.81L254.95 141.19L257.28 139.57L259.64 137.94L262.02 136.31L264.44 134.69L266.89 133.06L269.37 131.43L271.89 129.8L274.43 128.18L277.01 126.55L279.61 124.93L282.26 123.31L284.93 121.69L287.64 120.07L290.38 118.46L293.16 116.85L295.97 115.25L298.82 113.65L301.7 112.05L304.62 110.46L307.58 108.87L310.57 107.29L313.61 105.72L316.68 104.15L319.79 102.59L322.94 101.04L326.12 99.49L329.35 97.95L332.62 96.43L335.93 94.91L339.29 93.39L342.68 91.89L346.12 90.4L349.6 88.92L353.13 87.45L356.7 85.99L360.31 84.54L363.97 83.1L367.68 81.68L371.43 80.27L375.23 78.87L379.08 77.48L382.98 76.11L386.93 74.75L390.92 73.41L394.97 72.08L399.07 70.77L403.22 69.47L407.42 68.19L411.68 66.92L415.99 65.67L420.35 64.44L424.77 63.23L429.24 62.03L433.78 60.85L438.36 59.69L443.01 58.55L447.72 57.43L452.48 56.33L457.31 55.24L462.19 54.18L467.14 53.14L472.15 52.12L477.22 51.12L482.36 50.15L487.56 49.19L492.83 48.26L498.16 47.35L503.57 46.47L509.04 45.6L514.57 44.76L520.18 43.94L525.86 43.14L531.62 42.36L537.44 41.61L543.34 40.87L549.31 40.16L555.36 39.46L561.48 38.79L567.68 38.13L573.96 37.5L580.32 36.88L586.76 36.28L593.28 35.71L599.89 35.15L606.57 34.61L613.34 34.09L620.2 33.59L627.14 33.1L634.18 32.64L641.3 32.19L648.51 31.76L655.81 31.35L663.2 30.96L670.69 30.58L678.27 30.22L685.94 29.88L693.72 29.56L701.59 29.25L709.56 28.96L717.63 28.68L725.81 28.42L734.08 28.18L742.46 27.95L750.95 27.73L759.55 27.52L768.25 27.33L777.06 27.14L785.99 26.97L795.03 26.8L804.18 26.63L813.44 26.48L822.83 26.32L832.33 26.17L841.95 26.02L851.7 25.87L861.57 25.72L871.56 25.57L881.68 25.42L891.92 25.26L902.3 25.1L912.8 24.94L923.44 24.78L934.22 24.62L945.13 24.45L956.17 24.29L967.36 24.13L978.69 23.97L990.16 23.82L1001.78 23.67L1013.54 23.53L1025.45 23.39L1037.51 23.27L1049.73 23.15L1062.1 23.05L1074.62 22.95L1087.3 22.86L1100.15 22.78L1113.15 22.7L1126.32 22.64L1139.66 22.58L1153.16 22.53L1166.84 22.5L1180.68 22.5L1194.71 22.5L1208.91 22.5L1223.29 22.5L1237.85 22.5L1252.59 22.5L1267.52 22.5L1282.64 22.5L1297.95 22.5L1313.46 22.5L1329.16 22.5L1345.06 22.5L1361.15 22.5" fill="none" stroke="#6cbf47" stroke-width="3.0" stroke-linejoin="round" stroke-dasharray="12.0 11.65"/>
</g>
<g font-family="'Liberation Sans', Arial, Helvetica, sans-serif" font-size="19.8" fill="#1f1f1f" stroke="#1f1f1f" stroke-width="0.25">
<text x="69.7" y="495.7" text-anchor="middle">0</text>
<text x="471.9" y="495.7" text-anchor="middle">500</text>
<text x="875" y="495.7" text-anchor="middle">1000</text>
<text x="1279.3" y="495.7" text-anchor="middle">1500</text>
<text x="60.6" y="475.2" text-anchor="end">0</text>
<text x="57.7" y="429.35" text-anchor="end">0.5</text>
<text x="60.6" y="383.5" text-anchor="end">1</text>
<text x="57.7" y="337.65" text-anchor="end">1.5</text>
<text x="60.6" y="291.8" text-anchor="end">2</text>
<text x="57.7" y="245.95" text-anchor="end">2.5</text>
<text x="60.6" y="200.1" text-anchor="end">3</text>
<text x="57.7" y="154.25" text-anchor="end">3.5</text>
<text x="60.6" y="108.4" text-anchor="end">4</text>
<text x="57.7" y="62.55" text-anchor="end">4.5</text>
<text x="60.6" y="16.7" text-anchor="end">5</text>
</g>
<text transform="translate(17.0 233.9) rotate(-90)" text-anchor="middle" font-family="'Liberation Serif', 'Times New Roman', serif" font-size="23.4" fill="#1f1f1f" stroke="#222" stroke-width="0.3" textLength="185.6" lengthAdjust="spacing">Volume uptake [ml]</text>
<rect x="900.3" y="266.8" width="363.3" height="181.4" fill="#fff" stroke="#3a3a3a" stroke-width="1.2"/>
<g fill="none" stroke="#6cbf47" stroke-width="3.0" stroke-linejoin="miter">
<circle cx="936.1" cy="280.5" r="6.0"/>
</g>
<g fill="none" stroke="#6cbf47" stroke-width="2.8" stroke-linejoin="miter">
<path d="M927.74 302.5L940.13 295.35L940.13 309.65Z"/>
</g>
<g fill="#6cbf47" stroke="#6cbf47" stroke-width="1.2" stroke-linejoin="miter"><path d="M936.2 315.8L938.13 321.74L944.38 321.74L939.32 325.42L941.25 331.36L936.2 327.69L931.15 331.36L933.08 325.42L928.02 321.74L934.27 321.74Z" fill-rule="evenodd"/></g>
<circle cx="936.2" cy="324.6" r="0.85" fill="#fff"/>
<line x1="906.3" y1="346.6" x2="966" y2="346.6" stroke="#6cbf47" stroke-width="2.9" stroke-dasharray="12.3 11.4"/>
<g fill="none" stroke="#1c5a2c" stroke-width="3.2" stroke-linejoin="miter">
<path d="M932 364.7L940.4 373.1M932 373.1L940.4 364.7"/>
</g>
<g fill="none" stroke="#1c5a2c" stroke-width="2.9" stroke-linejoin="miter">
<rect x="931.85" y="386.85" width="8.7" height="8.7"/>
</g>
<g fill="none" stroke="#1c5a2c" stroke-width="3.1" stroke-linejoin="miter">
<path d="M936.2 405.12L943.2 417.24L929.2 417.24Z"/>
</g>
<line x1="906.3" y1="435" x2="966" y2="435" stroke="#1c5a2c" stroke-width="3.5"/>
<g font-family="'Liberation Serif', 'Times New Roman', serif" font-size="18.4" fill="#111" stroke="#111" stroke-width="0.3">
<text x="969.4" y="285.3" textLength="150.4" lengthAdjust="spacing">Experimental data,</text>
<text y="285.3"><tspan x="1126.2" font-style="italic">P</tspan><tspan x="1137.8" font-style="italic" font-size="13.2" dy="2.4">H</tspan><tspan x="1154.8" dy="-2.4" textLength="14.6" lengthAdjust="spacingAndGlyphs">=</tspan><tspan x="1173.6">1.5</tspan><tspan x="1199.4">bar</tspan></text>
<text x="969.4" y="307.4" textLength="150.4" lengthAdjust="spacing">Experimental data,</text>
<text y="307.4"><tspan x="1126.2" font-style="italic">P</tspan><tspan x="1137.8" font-style="italic" font-size="13.2" dy="2.4">H</tspan><tspan x="1154.8" dy="-2.4" textLength="14.6" lengthAdjust="spacingAndGlyphs">=</tspan><tspan x="1173.6">1.5</tspan><tspan x="1199.4">bar</tspan></text>
<text x="969.4" y="329.6" textLength="150.4" lengthAdjust="spacing">Experimental data,</text>
<text y="329.6"><tspan x="1126.2" font-style="italic">P</tspan><tspan x="1137.8" font-style="italic" font-size="13.2" dy="2.4">H</tspan><tspan x="1154.8" dy="-2.4" textLength="14.6" lengthAdjust="spacingAndGlyphs">=</tspan><tspan x="1173.6">1.5</tspan><tspan x="1199.4">bar</tspan></text>
<text x="969.4" y="351.7" textLength="182.8" lengthAdjust="spacing">Statistical-wood model,</text>
<text y="351.7"><tspan x="1159.1" font-style="italic">P</tspan><tspan x="1170.7" font-style="italic" font-size="13.2" dy="2.4">H</tspan><tspan x="1187.7" dy="-2.4" textLength="14.6" lengthAdjust="spacingAndGlyphs">=</tspan><tspan x="1206.5">1.5</tspan><tspan x="1232.3">bar</tspan></text>
<text x="969.4" y="373.9" textLength="150.4" lengthAdjust="spacing">Experimental data,</text>
<text y="373.9"><tspan x="1126.2" font-style="italic">P</tspan><tspan x="1137.8" font-style="italic" font-size="13.2" dy="2.4">H</tspan><tspan x="1154.8" dy="-2.4" textLength="14.6" lengthAdjust="spacingAndGlyphs">=</tspan><tspan x="1173.6">1.0</tspan><tspan x="1199.4">bar</tspan></text>
<text x="969.4" y="396" textLength="150.4" lengthAdjust="spacing">Experimental data,</text>
<text y="396"><tspan x="1126.2" font-style="italic">P</tspan><tspan x="1137.8" font-style="italic" font-size="13.2" dy="2.4">H</tspan><tspan x="1154.8" dy="-2.4" textLength="14.6" lengthAdjust="spacingAndGlyphs">=</tspan><tspan x="1173.6">1.0</tspan><tspan x="1199.4">bar</tspan></text>
<text x="969.4" y="418.1" textLength="150.4" lengthAdjust="spacing">Experimental data,</text>
<text y="418.1"><tspan x="1126.2" font-style="italic">P</tspan><tspan x="1137.8" font-style="italic" font-size="13.2" dy="2.4">H</tspan><tspan x="1154.8" dy="-2.4" textLength="14.6" lengthAdjust="spacingAndGlyphs">=</tspan><tspan x="1173.6">1.0</tspan><tspan x="1199.4">bar</tspan></text>
<text x="969.4" y="439.9" textLength="182.8" lengthAdjust="spacing">Statistical-wood model,</text>
<text y="439.9"><tspan x="1159.1" font-style="italic">P</tspan><tspan x="1170.7" font-style="italic" font-size="13.2" dy="2.4">H</tspan><tspan x="1187.7" dy="-2.4" textLength="14.6" lengthAdjust="spacingAndGlyphs">=</tspan><tspan x="1206.5">1.0</tspan><tspan x="1232.3">bar</tspan></text>
</g>
<!-- bottom panel: log-log axes -->
<rect x="70.5" y="515.7" width="1211.7" height="466.8" fill="none" stroke="#3a3a3a" stroke-width="1.2"/>
<line x1="149.56" y1="982.5" x2="149.56" y2="976" stroke="#3a3a3a" stroke-width="1.2"/>
<line x1="149.56" y1="515.7" x2="149.56" y2="522.2" stroke="#3a3a3a" stroke-width="1.2"/>
<line x1="205.65" y1="982.5" x2="205.65" y2="976" stroke="#3a3a3a" stroke-width="1.2"/>
<line x1="205.65" y1="515.7" x2="205.65" y2="522.2" stroke="#3a3a3a" stroke-width="1.2"/>
<line x1="249.15" y1="982.5" x2="249.15" y2="976" stroke="#3a3a3a" stroke-width="1.2"/>
<line x1="249.15" y1="515.7" x2="249.15" y2="522.2" stroke="#3a3a3a" stroke-width="1.2"/>
<line x1="284.7" y1="982.5" x2="284.7" y2="976" stroke="#3a3a3a" stroke-width="1.2"/>
<line x1="284.7" y1="515.7" x2="284.7" y2="522.2" stroke="#3a3a3a" stroke-width="1.2"/>
<line x1="314.76" y1="982.5" x2="314.76" y2="976" stroke="#3a3a3a" stroke-width="1.2"/>
<line x1="314.76" y1="515.7" x2="314.76" y2="522.2" stroke="#3a3a3a" stroke-width="1.2"/>
<line x1="340.79" y1="982.5" x2="340.79" y2="976" stroke="#3a3a3a" stroke-width="1.2"/>
<line x1="340.79" y1="515.7" x2="340.79" y2="522.2" stroke="#3a3a3a" stroke-width="1.2"/>
<line x1="363.76" y1="982.5" x2="363.76" y2="976" stroke="#3a3a3a" stroke-width="1.2"/>
<line x1="363.76" y1="515.7" x2="363.76" y2="522.2" stroke="#3a3a3a" stroke-width="1.2"/>
<line x1="384.3" y1="982.5" x2="384.3" y2="969.7" stroke="#3a3a3a" stroke-width="1.2"/>
<line x1="384.3" y1="515.7" x2="384.3" y2="528.5" stroke="#3a3a3a" stroke-width="1.2"/>
<line x1="519.45" y1="982.5" x2="519.45" y2="976" stroke="#3a3a3a" stroke-width="1.2"/>
<line x1="519.45" y1="515.7" x2="519.45" y2="522.2" stroke="#3a3a3a" stroke-width="1.2"/>
<line x1="598.51" y1="982.5" x2="598.51" y2="976" stroke="#3a3a3a" stroke-width="1.2"/>
<line x1="598.51" y1="515.7" x2="598.51" y2="522.2" stroke="#3a3a3a" stroke-width="1.2"/>
<line x1="654.6" y1="982.5" x2="654.6" y2="976" stroke="#3a3a3a" stroke-width="1.2"/>
<line x1="654.6" y1="515.7" x2="654.6" y2="522.2" stroke="#3a3a3a" stroke-width="1.2"/>
<line x1="698.1" y1="982.5" x2="698.1" y2="976" stroke="#3a3a3a" stroke-width="1.2"/>
<line x1="698.1" y1="515.7" x2="698.1" y2="522.2" stroke="#3a3a3a" stroke-width="1.2"/>
<line x1="733.65" y1="982.5" x2="733.65" y2="976" stroke="#3a3a3a" stroke-width="1.2"/>
<line x1="733.65" y1="515.7" x2="733.65" y2="522.2" stroke="#3a3a3a" stroke-width="1.2"/>
<line x1="763.71" y1="982.5" x2="763.71" y2="976" stroke="#3a3a3a" stroke-width="1.2"/>
<line x1="763.71" y1="515.7" x2="763.71" y2="522.2" stroke="#3a3a3a" stroke-width="1.2"/>
<line x1="789.74" y1="982.5" x2="789.74" y2="976" stroke="#3a3a3a" stroke-width="1.2"/>
<line x1="789.74" y1="515.7" x2="789.74" y2="522.2" stroke="#3a3a3a" stroke-width="1.2"/>
<line x1="812.71" y1="982.5" x2="812.71" y2="976" stroke="#3a3a3a" stroke-width="1.2"/>
<line x1="812.71" y1="515.7" x2="812.71" y2="522.2" stroke="#3a3a3a" stroke-width="1.2"/>
<line x1="833.25" y1="982.5" x2="833.25" y2="969.7" stroke="#3a3a3a" stroke-width="1.2"/>
<line x1="833.25" y1="515.7" x2="833.25" y2="528.5" stroke="#3a3a3a" stroke-width="1.2"/>
<line x1="968.4" y1="982.5" x2="968.4" y2="976" stroke="#3a3a3a" stroke-width="1.2"/>
<line x1="968.4" y1="515.7" x2="968.4" y2="522.2" stroke="#3a3a3a" stroke-width="1.2"/>
<line x1="1047.45" y1="982.5" x2="1047.45" y2="976" stroke="#3a3a3a" stroke-width="1.2"/>
<line x1="1047.45" y1="515.7" x2="1047.45" y2="522.2" stroke="#3a3a3a" stroke-width="1.2"/>
<line x1="1103.55" y1="982.5" x2="1103.55" y2="976" stroke="#3a3a3a" stroke-width="1.2"/>
<line x1="1103.55" y1="515.7" x2="1103.55" y2="522.2" stroke="#3a3a3a" stroke-width="1.2"/>
<line x1="1147.05" y1="982.5" x2="1147.05" y2="976" stroke="#3a3a3a" stroke-width="1.2"/>
<line x1="1147.05" y1="515.7" x2="1147.05" y2="522.2" stroke="#3a3a3a" stroke-width="1.2"/>
<line x1="1182.6" y1="982.5" x2="1182.6" y2="976" stroke="#3a3a3a" stroke-width="1.2"/>
<line x1="1182.6" y1="515.7" x2="1182.6" y2="522.2" stroke="#3a3a3a" stroke-width="1.2"/>
<line x1="1212.66" y1="982.5" x2="1212.66" y2="976" stroke="#3a3a3a" stroke-width="1.2"/>
<line x1="1212.66" y1="515.7" x2="1212.66" y2="522.2" stroke="#3a3a3a" stroke-width="1.2"/>
<line x1="1238.69" y1="982.5" x2="1238.69" y2="976" stroke="#3a3a3a" stroke-width="1.2"/>
<line x1="1238.69" y1="515.7" x2="1238.69" y2="522.2" stroke="#3a3a3a" stroke-width="1.2"/>
<line x1="1261.66" y1="982.5" x2="1261.66" y2="976" stroke="#3a3a3a" stroke-width="1.2"/>
<line x1="1261.66" y1="515.7" x2="1261.66" y2="522.2" stroke="#3a3a3a" stroke-width="1.2"/>
<line x1="70.5" y1="956.4" x2="77" y2="956.4" stroke="#3a3a3a" stroke-width="1.2"/>
<line x1="1282.2" y1="956.4" x2="1275.7" y2="956.4" stroke="#3a3a3a" stroke-width="1.2"/>
<line x1="70.5" y1="932.58" x2="77" y2="932.58" stroke="#3a3a3a" stroke-width="1.2"/>
<line x1="1282.2" y1="932.58" x2="1275.7" y2="932.58" stroke="#3a3a3a" stroke-width="1.2"/>
<line x1="70.5" y1="910.66" x2="77" y2="910.66" stroke="#3a3a3a" stroke-width="1.2"/>
<line x1="1282.2" y1="910.66" x2="1275.7" y2="910.66" stroke="#3a3a3a" stroke-width="1.2"/>
<line x1="70.5" y1="890.37" x2="77" y2="890.37" stroke="#3a3a3a" stroke-width="1.2"/>
<line x1="1282.2" y1="890.37" x2="1275.7" y2="890.37" stroke="#3a3a3a" stroke-width="1.2"/>
<line x1="70.5" y1="871.47" x2="83.3" y2="871.47" stroke="#3a3a3a" stroke-width="1.2"/>
<line x1="1282.2" y1="871.47" x2="1269.4" y2="871.47" stroke="#3a3a3a" stroke-width="1.2"/>
<line x1="70.5" y1="853.8" x2="77" y2="853.8" stroke="#3a3a3a" stroke-width="1.2"/>
<line x1="1282.2" y1="853.8" x2="1275.7" y2="853.8" stroke="#3a3a3a" stroke-width="1.2"/>
<line x1="70.5" y1="837.2" x2="77" y2="837.2" stroke="#3a3a3a" stroke-width="1.2"/>
<line x1="1282.2" y1="837.2" x2="1275.7" y2="837.2" stroke="#3a3a3a" stroke-width="1.2"/>
<line x1="70.5" y1="821.55" x2="77" y2="821.55" stroke="#3a3a3a" stroke-width="1.2"/>
<line x1="1282.2" y1="821.55" x2="1275.7" y2="821.55" stroke="#3a3a3a" stroke-width="1.2"/>
<line x1="70.5" y1="806.75" x2="77" y2="806.75" stroke="#3a3a3a" stroke-width="1.2"/>
<line x1="1282.2" y1="806.75" x2="1275.7" y2="806.75" stroke="#3a3a3a" stroke-width="1.2"/>
<line x1="70.5" y1="792.7" x2="83.3" y2="792.7" stroke="#3a3a3a" stroke-width="1.2"/>
<line x1="1282.2" y1="792.7" x2="1269.4" y2="792.7" stroke="#3a3a3a" stroke-width="1.2"/>
<line x1="70.5" y1="779.34" x2="77" y2="779.34" stroke="#3a3a3a" stroke-width="1.2"/>
<line x1="1282.2" y1="779.34" x2="1275.7" y2="779.34" stroke="#3a3a3a" stroke-width="1.2"/>
<line x1="70.5" y1="766.6" x2="77" y2="766.6" stroke="#3a3a3a" stroke-width="1.2"/>
<line x1="1282.2" y1="766.6" x2="1275.7" y2="766.6" stroke="#3a3a3a" stroke-width="1.2"/>
<line x1="70.5" y1="754.43" x2="77" y2="754.43" stroke="#3a3a3a" stroke-width="1.2"/>
<line x1="1282.2" y1="754.43" x2="1275.7" y2="754.43" stroke="#3a3a3a" stroke-width="1.2"/>
<line x1="70.5" y1="742.78" x2="77" y2="742.78" stroke="#3a3a3a" stroke-width="1.2"/>
<line x1="1282.2" y1="742.78" x2="1275.7" y2="742.78" stroke="#3a3a3a" stroke-width="1.2"/>
<line x1="70.5" y1="731.6" x2="83.3" y2="731.6" stroke="#3a3a3a" stroke-width="1.2"/>
<line x1="1282.2" y1="731.6" x2="1269.4" y2="731.6" stroke="#3a3a3a" stroke-width="1.2"/>
<line x1="70.5" y1="720.86" x2="77" y2="720.86" stroke="#3a3a3a" stroke-width="1.2"/>
<line x1="1282.2" y1="720.86" x2="1275.7" y2="720.86" stroke="#3a3a3a" stroke-width="1.2"/>
<line x1="70.5" y1="710.52" x2="77" y2="710.52" stroke="#3a3a3a" stroke-width="1.2"/>
<line x1="1282.2" y1="710.52" x2="1275.7" y2="710.52" stroke="#3a3a3a" stroke-width="1.2"/>
<line x1="70.5" y1="700.57" x2="77" y2="700.57" stroke="#3a3a3a" stroke-width="1.2"/>
<line x1="1282.2" y1="700.57" x2="1275.7" y2="700.57" stroke="#3a3a3a" stroke-width="1.2"/>
<line x1="70.5" y1="690.96" x2="77" y2="690.96" stroke="#3a3a3a" stroke-width="1.2"/>
<line x1="1282.2" y1="690.96" x2="1275.7" y2="690.96" stroke="#3a3a3a" stroke-width="1.2"/>
<line x1="70.5" y1="681.67" x2="83.3" y2="681.67" stroke="#3a3a3a" stroke-width="1.2"/>
<line x1="1282.2" y1="681.67" x2="1269.4" y2="681.67" stroke="#3a3a3a" stroke-width="1.2"/>
<line x1="70.5" y1="672.7" x2="77" y2="672.7" stroke="#3a3a3a" stroke-width="1.2"/>
<line x1="1282.2" y1="672.7" x2="1275.7" y2="672.7" stroke="#3a3a3a" stroke-width="1.2"/>
<line x1="70.5" y1="664" x2="77" y2="664" stroke="#3a3a3a" stroke-width="1.2"/>
<line x1="1282.2" y1="664" x2="1275.7" y2="664" stroke="#3a3a3a" stroke-width="1.2"/>
<line x1="70.5" y1="655.58" x2="77" y2="655.58" stroke="#3a3a3a" stroke-width="1.2"/>
<line x1="1282.2" y1="655.58" x2="1275.7" y2="655.58" stroke="#3a3a3a" stroke-width="1.2"/>
<line x1="70.5" y1="647.4" x2="77" y2="647.4" stroke="#3a3a3a" stroke-width="1.2"/>
<line x1="1282.2" y1="647.4" x2="1275.7" y2="647.4" stroke="#3a3a3a" stroke-width="1.2"/>
<line x1="70.5" y1="639.46" x2="83.3" y2="639.46" stroke="#3a3a3a" stroke-width="1.2"/>
<line x1="1282.2" y1="639.46" x2="1269.4" y2="639.46" stroke="#3a3a3a" stroke-width="1.2"/>
<line x1="70.5" y1="631.75" x2="77" y2="631.75" stroke="#3a3a3a" stroke-width="1.2"/>
<line x1="1282.2" y1="631.75" x2="1275.7" y2="631.75" stroke="#3a3a3a" stroke-width="1.2"/>
<line x1="70.5" y1="624.25" x2="77" y2="624.25" stroke="#3a3a3a" stroke-width="1.2"/>
<line x1="1282.2" y1="624.25" x2="1275.7" y2="624.25" stroke="#3a3a3a" stroke-width="1.2"/>
<line x1="70.5" y1="616.95" x2="77" y2="616.95" stroke="#3a3a3a" stroke-width="1.2"/>
<line x1="1282.2" y1="616.95" x2="1275.7" y2="616.95" stroke="#3a3a3a" stroke-width="1.2"/>
<line x1="70.5" y1="609.83" x2="77" y2="609.83" stroke="#3a3a3a" stroke-width="1.2"/>
<line x1="1282.2" y1="609.83" x2="1275.7" y2="609.83" stroke="#3a3a3a" stroke-width="1.2"/>
<line x1="70.5" y1="602.9" x2="83.3" y2="602.9" stroke="#3a3a3a" stroke-width="1.2"/>
<line x1="1282.2" y1="602.9" x2="1269.4" y2="602.9" stroke="#3a3a3a" stroke-width="1.2"/>
<line x1="70.5" y1="596.14" x2="77" y2="596.14" stroke="#3a3a3a" stroke-width="1.2"/>
<line x1="1282.2" y1="596.14" x2="1275.7" y2="596.14" stroke="#3a3a3a" stroke-width="1.2"/>
<line x1="70.5" y1="589.54" x2="77" y2="589.54" stroke="#3a3a3a" stroke-width="1.2"/>
<line x1="1282.2" y1="589.54" x2="1275.7" y2="589.54" stroke="#3a3a3a" stroke-width="1.2"/>
<line x1="70.5" y1="583.1" x2="77" y2="583.1" stroke="#3a3a3a" stroke-width="1.2"/>
<line x1="1282.2" y1="583.1" x2="1275.7" y2="583.1" stroke="#3a3a3a" stroke-width="1.2"/>
<line x1="70.5" y1="576.8" x2="77" y2="576.8" stroke="#3a3a3a" stroke-width="1.2"/>
<line x1="1282.2" y1="576.8" x2="1275.7" y2="576.8" stroke="#3a3a3a" stroke-width="1.2"/>
<line x1="70.5" y1="570.65" x2="83.3" y2="570.65" stroke="#3a3a3a" stroke-width="1.2"/>
<line x1="1282.2" y1="570.65" x2="1269.4" y2="570.65" stroke="#3a3a3a" stroke-width="1.2"/>
<line x1="70.5" y1="564.63" x2="77" y2="564.63" stroke="#3a3a3a" stroke-width="1.2"/>
<line x1="1282.2" y1="564.63" x2="1275.7" y2="564.63" stroke="#3a3a3a" stroke-width="1.2"/>
<line x1="70.5" y1="558.74" x2="77" y2="558.74" stroke="#3a3a3a" stroke-width="1.2"/>
<line x1="1282.2" y1="558.74" x2="1275.7" y2="558.74" stroke="#3a3a3a" stroke-width="1.2"/>
<line x1="70.5" y1="552.98" x2="77" y2="552.98" stroke="#3a3a3a" stroke-width="1.2"/>
<line x1="1282.2" y1="552.98" x2="1275.7" y2="552.98" stroke="#3a3a3a" stroke-width="1.2"/>
<line x1="70.5" y1="547.33" x2="77" y2="547.33" stroke="#3a3a3a" stroke-width="1.2"/>
<line x1="1282.2" y1="547.33" x2="1275.7" y2="547.33" stroke="#3a3a3a" stroke-width="1.2"/>
<line x1="70.5" y1="541.8" x2="83.3" y2="541.8" stroke="#3a3a3a" stroke-width="1.2"/>
<line x1="1282.2" y1="541.8" x2="1269.4" y2="541.8" stroke="#3a3a3a" stroke-width="1.2"/>
<line x1="70.5" y1="536.38" x2="77" y2="536.38" stroke="#3a3a3a" stroke-width="1.2"/>
<line x1="1282.2" y1="536.38" x2="1275.7" y2="536.38" stroke="#3a3a3a" stroke-width="1.2"/>
<line x1="70.5" y1="531.06" x2="77" y2="531.06" stroke="#3a3a3a" stroke-width="1.2"/>
<line x1="1282.2" y1="531.06" x2="1275.7" y2="531.06" stroke="#3a3a3a" stroke-width="1.2"/>
<line x1="70.5" y1="525.84" x2="77" y2="525.84" stroke="#3a3a3a" stroke-width="1.2"/>
<line x1="1282.2" y1="525.84" x2="1275.7" y2="525.84" stroke="#3a3a3a" stroke-width="1.2"/>
<line x1="70.5" y1="520.72" x2="77" y2="520.72" stroke="#3a3a3a" stroke-width="1.2"/>
<line x1="1282.2" y1="520.72" x2="1275.7" y2="520.72" stroke="#3a3a3a" stroke-width="1.2"/>
<g fill="none" stroke="#1c5a2c" stroke-width="1.5" stroke-linejoin="miter">
<path d="M94.07 972.17L102.27 980.37M94.07 980.37L102.27 972.17"/><path d="M290.21 803.59L298.41 811.79M290.21 811.79L298.41 803.59"/><path d="M386.21 744.05L394.41 752.25M386.21 752.25L394.41 744.05"/><path d="M450.05 707.44L458.25 715.64M450.05 715.64L458.25 707.44"/><path d="M496.21 682.52L504.41 690.72M496.21 690.72L504.41 682.52"/><path d="M535.13 661.59L543.33 669.79M535.13 669.79L543.33 661.59"/><path d="M567.44 645.45L575.64 653.65M567.44 653.65L575.64 645.45"/><path d="M595.21 631.9L603.41 640.1M595.21 640.1L603.41 631.9"/><path d="M619.52 620.48L627.72 628.68M619.52 628.68L627.72 620.48"/><path d="M641.13 610.71L649.33 618.91M641.13 618.91L649.33 610.71"/><path d="M660.58 602.44L668.78 610.64M660.58 610.64L668.78 602.44"/><path d="M678.26 595.55L686.46 603.75M678.26 603.75L686.46 595.55"/><path d="M693.59 589.6L701.79 597.8M693.59 597.8L701.79 589.6"/><path d="M708.62 584.1L716.82 592.3M708.62 592.3L716.82 584.1"/><path d="M722.58 579.46L730.78 587.66M722.58 587.66L730.78 579.46"/><path d="M735.6 575L743.8 583.2M735.6 583.2L743.8 575"/><path d="M747.93 571.03L756.13 579.23M747.93 579.23L756.13 571.03"/><path d="M759.41 567.93L767.61 576.13M759.41 576.13L767.61 567.93"/><path d="M770.25 565.18L778.45 573.38M770.25 573.38L778.45 565.18"/><path d="M780.62 562.65L788.82 570.85M780.62 570.85L788.82 562.65"/><path d="M789.92 560.44L798.12 568.64M789.92 568.64L798.12 560.44"/><path d="M799.23 557.86L807.43 566.06M799.23 566.06L807.43 557.86"/><path d="M808.12 556.48L816.32 564.68M808.12 564.68L816.32 556.48"/><path d="M816.54 553.93L824.74 562.13M816.54 562.13L824.74 553.93"/><path d="M824.68 552.28L832.88 560.48M824.68 560.48L832.88 552.28"/><path d="M832.5 551.6L840.7 559.8M832.5 559.8L840.7 551.6"/><path d="M840.02 550.64L848.22 558.84M840.02 558.84L848.22 550.64"/><path d="M846.92 550.06L855.12 558.26M846.92 558.26L855.12 550.06"/><path d="M853.91 549.87L862.11 558.07M853.91 558.07L862.11 549.87"/><path d="M860.51 548.72L868.71 556.92M860.51 556.92L868.71 548.72"/><path d="M867.19 548.14L875.39 556.34M867.19 556.34L875.39 548.14"/><path d="M873.5 548.14L881.7 556.34M873.5 556.34L881.7 548.14"/><path d="M879.61 547.76L887.81 555.96M879.61 555.96L887.81 547.76"/><path d="M885.54 547.38L893.74 555.58M885.54 555.58L893.74 547.38"/><path d="M891.3 546.81L899.5 555.01M891.3 555.01L899.5 546.81"/><path d="M896.89 546.62L905.09 554.82M896.89 554.82L905.09 546.62"/><path d="M902.32 546.24L910.52 554.44M902.32 554.44L910.52 546.24"/><path d="M907.58 546.24L915.78 554.44M907.58 554.44L915.78 546.24"/><path d="M912.7 546.18L920.9 554.38M912.7 554.38L920.9 546.18"/><path d="M917.69 546.11L925.89 554.31M917.69 554.31L925.89 546.11"/><path d="M922.56 546.04L930.76 554.24M922.56 554.24L930.76 546.04"/><path d="M927.31 545.97L935.51 554.17M927.31 554.17L935.51 545.97"/><path d="M931.94 545.91L940.14 554.11M931.94 554.11L940.14 545.91"/><path d="M936.47 545.84L944.67 554.04M936.47 554.04L944.67 545.84"/><path d="M940.89 545.78L949.09 553.98M940.89 553.98L949.09 545.78"/><path d="M945.22 545.72L953.42 553.92M945.22 553.92L953.42 545.72"/><path d="M949.45 545.66L957.65 553.86M949.45 553.86L957.65 545.66"/><path d="M953.6 545.6L961.8 553.8M953.6 553.8L961.8 545.6"/><path d="M957.65 545.54L965.85 553.74M957.65 553.74L965.85 545.54"/><path d="M978.4 544.19L986.6 552.39M978.4 552.39L986.6 544.19"/><path d="M991.55 543.94L999.75 552.14M991.55 552.14L999.75 543.94"/><path d="M1003.87 543.72L1012.07 551.92M1003.87 551.92L1012.07 543.72"/><path d="M1015.45 543.51L1023.65 551.71M1015.45 551.71L1023.65 543.51"/><path d="M1026.39 543.31L1034.59 551.51M1026.39 551.51L1034.59 543.31"/><path d="M1036.74 543.12L1044.94 551.32M1036.74 551.32L1044.94 543.12"/><path d="M1046.58 542.94L1054.78 551.14M1046.58 551.14L1054.78 542.94"/><path d="M1055.94 542.77L1064.14 550.97M1055.94 550.97L1064.14 542.77"/><path d="M1064.87 542.61L1073.07 550.81M1064.87 550.81L1073.07 542.61"/><path d="M1073.41 542.45L1081.61 550.65M1073.41 550.65L1081.61 542.45"/><path d="M1081.59 542.3L1089.79 550.5M1081.59 550.5L1089.79 542.3"/><path d="M1089.44 542.16L1097.64 550.36M1089.44 550.36L1097.64 542.16"/><path d="M1096.99 542.02L1105.19 550.22M1096.99 550.22L1105.19 542.02"/><path d="M1104.26 541.89L1112.46 550.09M1104.26 550.09L1112.46 541.89"/><path d="M1111.27 541.76L1119.47 549.96M1111.27 549.96L1119.47 541.76"/><path d="M1118.03 541.64L1126.23 549.84M1118.03 549.84L1126.23 541.64"/><path d="M1124.56 541.56L1132.76 549.76M1124.56 549.76L1132.76 541.56"/><path d="M1130.89 541.56L1139.09 549.76M1130.89 549.76L1139.09 541.56"/><path d="M1137.01 541.56L1145.21 549.76M1137.01 549.76L1145.21 541.56"/><path d="M1142.95 541.56L1151.15 549.76M1142.95 549.76L1151.15 541.56"/><path d="M1148.72 541.56L1156.92 549.76M1148.72 549.76L1156.92 541.56"/><path d="M1154.31 541.56L1162.51 549.76M1154.31 549.76L1162.51 541.56"/><path d="M1159.76 541.56L1167.96 549.76M1159.76 549.76L1167.96 541.56"/><path d="M1165.05 541.56L1173.25 549.76M1165.05 549.76L1173.25 541.56"/><path d="M1170.2 541.56L1178.4 549.76M1170.2 549.76L1178.4 541.56"/><path d="M1175.22 541.56L1183.42 549.76M1175.22 549.76L1183.42 541.56"/><path d="M1180.12 541.56L1188.32 549.76M1180.12 549.76L1188.32 541.56"/><path d="M1184.89 541.56L1193.09 549.76M1184.89 549.76L1193.09 541.56"/><path d="M1189.56 541.56L1197.76 549.76M1189.56 549.76L1197.76 541.56"/><path d="M1194.11 541.56L1202.31 549.76M1194.11 549.76L1202.31 541.56"/><path d="M1198.56 541.56L1206.76 549.76M1198.56 549.76L1206.76 541.56"/><path d="M1202.91 541.56L1211.11 549.76M1202.91 549.76L1211.11 541.56"/><path d="M1207.16 541.56L1215.36 549.76M1207.16 549.76L1215.36 541.56"/><path d="M1211.32 541.56L1219.52 549.76M1211.32 549.76L1219.52 541.56"/>
</g>
<g fill="none" stroke="#1c5a2c" stroke-width="1.5" stroke-linejoin="miter">
<rect x="273.96" y="821.65" width="9.0" height="9.0"/><rect x="371.65" y="762.42" width="9.0" height="9.0"/><rect x="439.81" y="723.19" width="9.0" height="9.0"/><rect x="490.12" y="695.5" width="9.0" height="9.0"/><rect x="530.12" y="673.96" width="9.0" height="9.0"/><rect x="561.71" y="657.59" width="9.0" height="9.0"/><rect x="590.45" y="643.02" width="9.0" height="9.0"/><rect x="615.83" y="630.47" width="9.0" height="9.0"/><rect x="636" y="620.95" width="9.0" height="9.0"/><rect x="655.9" y="611.76" width="9.0" height="9.0"/><rect x="674.21" y="604.38" width="9.0" height="9.0"/><rect x="690.49" y="597.43" width="9.0" height="9.0"/><rect x="705.03" y="591.43" width="9.0" height="9.0"/><rect x="719.21" y="586.21" width="9.0" height="9.0"/><rect x="732.3" y="581.32" width="9.0" height="9.0"/><rect x="744.29" y="576.93" width="9.0" height="9.0"/><rect x="756.07" y="573.34" width="9.0" height="9.0"/><rect x="766.82" y="570.11" width="9.0" height="9.0"/><rect x="777.49" y="567.02" width="9.0" height="9.0"/><rect x="786.69" y="564.57" width="9.0" height="9.0"/><rect x="796.13" y="562.25" width="9.0" height="9.0"/><rect x="805.22" y="559.94" width="9.0" height="9.0"/><rect x="813.42" y="558.25" width="9.0" height="9.0"/><rect x="821.61" y="556.47" width="9.0" height="9.0"/><rect x="829.53" y="555.29" width="9.0" height="9.0"/><rect x="836.79" y="554.31" width="9.0" height="9.0"/><rect x="844.07" y="553.14" width="9.0" height="9.0"/><rect x="851.21" y="552.36" width="9.0" height="9.0"/><rect x="857.88" y="551.88" width="9.0" height="9.0"/><rect x="864.64" y="551.4" width="9.0" height="9.0"/><rect x="870.78" y="550.91" width="9.0" height="9.0"/><rect x="876.91" y="550.43" width="9.0" height="9.0"/><rect x="882.85" y="550.24" width="9.0" height="9.0"/><rect x="888.45" y="550.24" width="9.0" height="9.0"/><rect x="894.06" y="549.95" width="9.0" height="9.0"/><rect x="899.56" y="549.66" width="9.0" height="9.0"/><rect x="904.85" y="549.66" width="9.0" height="9.0"/><rect x="910.01" y="549.59" width="9.0" height="9.0"/><rect x="915.04" y="549.43" width="9.0" height="9.0"/><rect x="919.93" y="549.27" width="9.0" height="9.0"/><rect x="924.71" y="549.11" width="9.0" height="9.0"/><rect x="929.38" y="548.96" width="9.0" height="9.0"/><rect x="933.93" y="548.82" width="9.0" height="9.0"/><rect x="938.38" y="548.67" width="9.0" height="9.0"/><rect x="942.73" y="548.53" width="9.0" height="9.0"/><rect x="946.99" y="548.4" width="9.0" height="9.0"/><rect x="951.15" y="548.26" width="9.0" height="9.0"/><rect x="955.23" y="548.13" width="9.0" height="9.0"/><rect x="959.23" y="548" width="9.0" height="9.0"/><rect x="963.14" y="547.88" width="9.0" height="9.0"/><rect x="966.98" y="547.76" width="9.0" height="9.0"/><rect x="970.74" y="547.64" width="9.0" height="9.0"/><rect x="974.43" y="547.52" width="9.0" height="9.0"/><rect x="978.06" y="547.4" width="9.0" height="9.0"/><rect x="981.62" y="547.29" width="9.0" height="9.0"/><rect x="985.11" y="547.18" width="9.0" height="9.0"/><rect x="988.54" y="547.07" width="9.0" height="9.0"/><rect x="991.91" y="546.96" width="9.0" height="9.0"/><rect x="995.23" y="546.85" width="9.0" height="9.0"/><rect x="998.49" y="546.75" width="9.0" height="9.0"/><rect x="1001.7" y="546.65" width="9.0" height="9.0"/><rect x="1004.85" y="546.54" width="9.0" height="9.0"/><rect x="1007.96" y="546.45" width="9.0" height="9.0"/><rect x="1011.01" y="546.35" width="9.0" height="9.0"/><rect x="1014.02" y="546.25" width="9.0" height="9.0"/><rect x="1016.98" y="546.16" width="9.0" height="9.0"/><rect x="1019.9" y="546.06" width="9.0" height="9.0"/><rect x="1022.78" y="545.97" width="9.0" height="9.0"/><rect x="1025.61" y="545.88" width="9.0" height="9.0"/><rect x="1028.4" y="545.79" width="9.0" height="9.0"/><rect x="1031.16" y="545.71" width="9.0" height="9.0"/><rect x="1033.87" y="545.62" width="9.0" height="9.0"/><rect x="1036.55" y="545.53" width="9.0" height="9.0"/><rect x="1039.19" y="545.45" width="9.0" height="9.0"/><rect x="1041.8" y="545.37" width="9.0" height="9.0"/><rect x="1044.37" y="545.29" width="9.0" height="9.0"/><rect x="1046.91" y="545.21" width="9.0" height="9.0"/><rect x="1049.41" y="545.13" width="9.0" height="9.0"/><rect x="1051.89" y="545.05" width="9.0" height="9.0"/><rect x="1054.33" y="544.97" width="9.0" height="9.0"/><rect x="1056.74" y="544.89" width="9.0" height="9.0"/><rect x="1059.13" y="544.82" width="9.0" height="9.0"/><rect x="1061.48" y="544.74" width="9.0" height="9.0"/><rect x="1063.81" y="544.67" width="9.0" height="9.0"/><rect x="1066.11" y="544.6" width="9.0" height="9.0"/><rect x="1068.38" y="544.52" width="9.0" height="9.0"/><rect x="1070.63" y="544.45" width="9.0" height="9.0"/><rect x="1072.85" y="544.38" width="9.0" height="9.0"/><rect x="1075.04" y="544.31" width="9.0" height="9.0"/><rect x="1077.21" y="544.24" width="9.0" height="9.0"/><rect x="1079.36" y="544.18" width="9.0" height="9.0"/><rect x="1081.48" y="544.11" width="9.0" height="9.0"/><rect x="1083.58" y="544.04" width="9.0" height="9.0"/><rect x="1085.66" y="543.98" width="9.0" height="9.0"/><rect x="1087.72" y="543.91" width="9.0" height="9.0"/><rect x="1089.75" y="543.85" width="9.0" height="9.0"/><rect x="1091.77" y="543.78" width="9.0" height="9.0"/><rect x="1093.76" y="543.72" width="9.0" height="9.0"/><rect x="1095.73" y="543.66" width="9.0" height="9.0"/><rect x="1097.69" y="543.6" width="9.0" height="9.0"/><rect x="1099.62" y="543.54" width="9.0" height="9.0"/><rect x="1101.54" y="543.48" width="9.0" height="9.0"/><rect x="1103.43" y="543.42" width="9.0" height="9.0"/><rect x="1105.31" y="543.36" width="9.0" height="9.0"/><rect x="1107.17" y="543.3" width="9.0" height="9.0"/><rect x="1109.02" y="543.24" width="9.0" height="9.0"/><rect x="1110.84" y="543.18" width="9.0" height="9.0"/><rect x="1112.65" y="543.13" width="9.0" height="9.0"/><rect x="1114.44" y="543.07" width="9.0" height="9.0"/><rect x="1116.22" y="543.01" width="9.0" height="9.0"/><rect x="1117.98" y="542.96" width="9.0" height="9.0"/><rect x="1119.72" y="542.9" width="9.0" height="9.0"/><rect x="1121.45" y="542.85" width="9.0" height="9.0"/><rect x="1123.16" y="542.83" width="9.0" height="9.0"/><rect x="1124.86" y="542.83" width="9.0" height="9.0"/><rect x="1126.54" y="542.83" width="9.0" height="9.0"/><rect x="1128.21" y="542.83" width="9.0" height="9.0"/><rect x="1129.87" y="542.83" width="9.0" height="9.0"/><rect x="1131.51" y="542.83" width="9.0" height="9.0"/><rect x="1133.14" y="542.83" width="9.0" height="9.0"/><rect x="1134.75" y="542.83" width="9.0" height="9.0"/><rect x="1136.35" y="542.83" width="9.0" height="9.0"/><rect x="1137.94" y="542.83" width="9.0" height="9.0"/><rect x="1139.51" y="542.83" width="9.0" height="9.0"/><rect x="1141.08" y="542.83" width="9.0" height="9.0"/><rect x="1142.63" y="542.83" width="9.0" height="9.0"/><rect x="1144.16" y="542.83" width="9.0" height="9.0"/><rect x="1145.69" y="542.83" width="9.0" height="9.0"/><rect x="1147.2" y="542.83" width="9.0" height="9.0"/><rect x="1148.7" y="542.83" width="9.0" height="9.0"/><rect x="1150.19" y="542.83" width="9.0" height="9.0"/><rect x="1151.67" y="542.83" width="9.0" height="9.0"/><rect x="1153.14" y="542.83" width="9.0" height="9.0"/><rect x="1154.6" y="542.83" width="9.0" height="9.0"/><rect x="1156.05" y="542.83" width="9.0" height="9.0"/><rect x="1157.48" y="542.83" width="9.0" height="9.0"/><rect x="1158.91" y="542.83" width="9.0" height="9.0"/><rect x="1160.32" y="542.83" width="9.0" height="9.0"/><rect x="1161.73" y="542.83" width="9.0" height="9.0"/><rect x="1163.12" y="542.83" width="9.0" height="9.0"/><rect x="1164.5" y="542.83" width="9.0" height="9.0"/><rect x="1165.88" y="542.83" width="9.0" height="9.0"/><rect x="1167.25" y="542.83" width="9.0" height="9.0"/><rect x="1168.6" y="542.83" width="9.0" height="9.0"/><rect x="1169.95" y="542.83" width="9.0" height="9.0"/><rect x="1171.28" y="542.83" width="9.0" height="9.0"/><rect x="1172.61" y="542.83" width="9.0" height="9.0"/><rect x="1173.93" y="542.83" width="9.0" height="9.0"/><rect x="1175.24" y="542.83" width="9.0" height="9.0"/><rect x="1176.54" y="542.83" width="9.0" height="9.0"/><rect x="1177.84" y="542.83" width="9.0" height="9.0"/><rect x="1179.12" y="542.83" width="9.0" height="9.0"/><rect x="1180.4" y="542.83" width="9.0" height="9.0"/><rect x="1181.66" y="542.83" width="9.0" height="9.0"/><rect x="1182.92" y="542.83" width="9.0" height="9.0"/><rect x="1184.18" y="542.83" width="9.0" height="9.0"/><rect x="1185.42" y="542.83" width="9.0" height="9.0"/><rect x="1186.65" y="542.83" width="9.0" height="9.0"/><rect x="1187.88" y="542.83" width="9.0" height="9.0"/><rect x="1189.1" y="542.83" width="9.0" height="9.0"/><rect x="1190.31" y="542.83" width="9.0" height="9.0"/><rect x="1191.52" y="542.83" width="9.0" height="9.0"/><rect x="1192.72" y="542.83" width="9.0" height="9.0"/><rect x="1193.91" y="542.83" width="9.0" height="9.0"/><rect x="1195.09" y="542.83" width="9.0" height="9.0"/><rect x="1196.27" y="542.83" width="9.0" height="9.0"/><rect x="1197.43" y="542.83" width="9.0" height="9.0"/><rect x="1198.6" y="542.83" width="9.0" height="9.0"/><rect x="1199.75" y="542.83" width="9.0" height="9.0"/><rect x="1200.9" y="542.83" width="9.0" height="9.0"/><rect x="1202.04" y="542.83" width="9.0" height="9.0"/><rect x="1203.18" y="542.83" width="9.0" height="9.0"/><rect x="1204.3" y="542.83" width="9.0" height="9.0"/><rect x="1205.43" y="542.83" width="9.0" height="9.0"/><rect x="1206.54" y="542.83" width="9.0" height="9.0"/><rect x="1207.65" y="542.83" width="9.0" height="9.0"/><rect x="1208.75" y="542.83" width="9.0" height="9.0"/><rect x="1209.85" y="542.83" width="9.0" height="9.0"/><rect x="1210.94" y="542.83" width="9.0" height="9.0"/>
</g>
<g fill="none" stroke="#6cbf47" stroke-width="1.5" stroke-linejoin="miter">
<circle cx="106.45" cy="895.9" r="5.85"/><circle cx="241.54" cy="796.15" r="5.85"/><circle cx="320.46" cy="747.69" r="5.85"/><circle cx="372.31" cy="718.77" r="5.85"/><circle cx="416.62" cy="692.77" r="5.85"/><circle cx="452.31" cy="673.08" r="5.85"/><circle cx="483.08" cy="656.15" r="5.85"/><circle cx="507.69" cy="643.08" r="5.85"/><circle cx="530.46" cy="631.54" r="5.85"/><circle cx="552.31" cy="621.54" r="5.85"/><circle cx="570.11" cy="613.85" r="5.85"/><circle cx="586.58" cy="607.94" r="5.85"/><circle cx="602.37" cy="601.01" r="5.85"/><circle cx="617.54" cy="594.81" r="5.85"/><circle cx="631.09" cy="588.74" r="5.85"/><circle cx="642.78" cy="585.49" r="5.85"/><circle cx="654.27" cy="579.94" r="5.85"/><circle cx="666" cy="577" r="5.85"/><circle cx="676.65" cy="573.89" r="5.85"/><circle cx="686.35" cy="571.62" r="5.85"/><circle cx="695.59" cy="568.77" r="5.85"/><circle cx="705.13" cy="565.74" r="5.85"/><circle cx="714.1" cy="562.26" r="5.85"/><circle cx="721.61" cy="559.6" r="5.85"/><circle cx="729.8" cy="556.19" r="5.85"/>
</g>
<g fill="none" stroke="#6cbf47" stroke-width="1.5" stroke-linejoin="miter">
<path d="M99.76 891.94L111.62 885.09L111.62 898.79Z"/><path d="M295.63 756.46L307.49 749.61L307.49 763.31Z"/><path d="M392.71 700.77L404.57 693.92L404.57 707.62Z"/><path d="M457.01 664.15L468.88 657.3L468.88 671Z"/><path d="M504.24 639.54L516.11 632.69L516.11 646.39Z"/><path d="M544.24 620.77L556.11 613.92L556.11 627.62Z"/><path d="M576.69 609.11L588.55 602.26L588.55 615.96Z"/><path d="M603.93 597.61L615.8 590.76L615.8 604.46Z"/><path d="M626.81 588.74L638.68 581.89L638.68 595.59Z"/><path d="M647.29 580.16L659.15 573.31L659.15 587.01Z"/><path d="M667.91 574.4L679.77 567.55L679.77 581.25Z"/><path d="M686.17 570.8L698.04 563.95L698.04 577.65Z"/><path d="M701.83 565.74L713.69 558.89L713.69 572.59Z"/><path d="M716.97 561.76L728.83 554.91L728.83 568.61Z"/><path d="M730.11 557.35L741.97 550.5L741.97 564.2Z"/><path d="M742.7 553.97L754.57 547.12L754.57 560.82Z"/><path d="M755.07 550.91L766.93 544.06L766.93 557.76Z"/><path d="M766.7 549.96L778.56 543.11L778.56 556.81Z"/><path d="M776.95 549.68L788.82 542.83L788.82 556.53Z"/><path d="M787.38 549.49L799.24 542.64L799.24 556.34Z"/><path d="M797.27 549.21L809.14 542.36L809.14 556.06Z"/><path d="M806.49 549.21L818.35 542.36L818.35 556.06Z"/><path d="M815.29 548.92L827.15 542.07L827.15 555.77Z"/><path d="M823.52 549.21L835.38 542.36L835.38 556.06Z"/><path d="M831.77 549.21L843.64 542.36L843.64 556.06Z"/><path d="M839.52 549.02L851.38 542.17L851.38 555.87Z"/><path d="M846.97 549.02L858.84 542.17L858.84 555.87Z"/><path d="M854.15 548.55L866.01 541.7L866.01 555.4Z"/><path d="M860.92 548.73L872.78 541.88L872.78 555.58Z"/><path d="M867.76 548.73L879.62 541.88L879.62 555.58Z"/><path d="M874.51 548.45L886.37 541.6L886.37 555.3Z"/><path d="M880.9 548.26L892.76 541.41L892.76 555.11Z"/><path d="M886.95 548.26L898.81 541.41L898.81 555.11Z"/><path d="M892.81 548.26L904.68 541.41L904.68 555.11Z"/><path d="M898.51 548.26L910.37 541.41L910.37 555.11Z"/><path d="M903.99 548.26L915.86 541.41L915.86 555.11Z"/><path d="M909.32 548.19L921.19 541.34L921.19 555.04Z"/><path d="M914.51 548.11L926.38 541.26L926.38 554.96Z"/><path d="M919.57 548.04L931.43 541.19L931.43 554.89Z"/><path d="M924.5 547.97L936.36 541.12L936.36 554.82Z"/><path d="M929.3 547.89L941.17 541.04L941.17 554.74Z"/><path d="M933.99 547.83L945.86 540.98L945.86 554.68Z"/><path d="M938.57 547.76L950.44 540.91L950.44 554.61Z"/><path d="M943.05 547.69L954.91 540.84L954.91 554.54Z"/><path d="M947.42 547.63L959.29 540.78L959.29 554.48Z"/><path d="M951.7 547.56L963.57 540.71L963.57 554.41Z"/><path d="M955.89 547.5L967.75 540.65L967.75 554.35Z"/><path d="M959.99 547.44L971.85 540.59L971.85 554.29Z"/><path d="M964 547.38L975.87 540.53L975.87 554.23Z"/><path d="M967.94 547.32L979.8 540.47L979.8 554.17Z"/><path d="M971.79 547.27L983.66 540.42L983.66 554.12Z"/><path d="M975.57 547.21L987.44 540.36L987.44 554.06Z"/><path d="M979.28 547.16L991.15 540.31L991.15 554.01Z"/><path d="M982.92 547.1L994.79 540.25L994.79 553.95Z"/><path d="M986.5 547.05L998.36 540.2L998.36 553.9Z"/><path d="M990 547L1001.87 540.15L1001.87 553.85Z"/><path d="M993.45 546.95L1005.32 540.1L1005.32 553.8Z"/><path d="M996.84 546.9L1008.7 540.05L1008.7 553.75Z"/><path d="M1000.17 546.85L1012.03 540L1012.03 553.7Z"/><path d="M1003.44 546.8L1015.3 539.95L1015.3 553.65Z"/><path d="M1006.66 546.75L1018.52 539.9L1018.52 553.6Z"/><path d="M1009.83 546.7L1021.69 539.85L1021.69 553.55Z"/><path d="M1012.94 546.66L1024.81 539.81L1024.81 553.51Z"/><path d="M1016.01 546.61L1027.87 539.76L1027.87 553.46Z"/><path d="M1019.03 546.57L1030.89 539.72L1030.89 553.42Z"/><path d="M1022 546.52L1033.87 539.67L1033.87 553.37Z"/><path d="M1024.93 546.48L1036.8 539.63L1036.8 553.33Z"/><path d="M1027.82 546.44L1039.68 539.59L1039.68 553.29Z"/><path d="M1030.66 546.4L1042.53 539.55L1042.53 553.25Z"/><path d="M1033.46 546.36L1045.33 539.51L1045.33 553.21Z"/><path d="M1036.23 546.31L1048.09 539.46L1048.09 553.16Z"/><path d="M1038.95 546.27L1050.82 539.42L1050.82 553.12Z"/><path d="M1041.64 546.24L1053.5 539.39L1053.5 553.09Z"/><path d="M1044.29 546.2L1056.15 539.35L1056.15 553.05Z"/><path d="M1046.9 546.16L1058.77 539.31L1058.77 553.01Z"/><path d="M1049.48 546.12L1061.35 539.27L1061.35 552.97Z"/><path d="M1052.03 546.08L1063.89 539.23L1063.89 552.93Z"/><path d="M1054.54 546.05L1066.41 539.2L1066.41 552.9Z"/><path d="M1057.02 546.01L1068.89 539.16L1068.89 552.86Z"/><path d="M1059.47 545.97L1071.34 539.12L1071.34 552.82Z"/><path d="M1061.89 545.94L1073.76 539.09L1073.76 552.79Z"/><path d="M1064.29 545.9L1076.15 539.05L1076.15 552.75Z"/><path d="M1066.65 545.87L1078.51 539.02L1078.51 552.72Z"/><path d="M1068.98 545.83L1080.84 538.98L1080.84 552.68Z"/><path d="M1071.29 545.8L1083.15 538.95L1083.15 552.65Z"/><path d="M1073.56 545.77L1085.43 538.92L1085.43 552.62Z"/><path d="M1075.82 545.73L1087.68 538.88L1087.68 552.58Z"/><path d="M1078.04 545.7L1089.91 538.85L1089.91 552.55Z"/><path d="M1080.24 545.67L1092.11 538.82L1092.11 552.52Z"/><path d="M1082.42 545.64L1094.29 538.79L1094.29 552.49Z"/><path d="M1084.57 545.6L1096.44 538.75L1096.44 552.45Z"/><path d="M1086.7 545.57L1098.57 538.72L1098.57 552.42Z"/><path d="M1088.81 545.54L1100.67 538.69L1100.67 552.39Z"/><path d="M1090.89 545.51L1102.76 538.66L1102.76 552.36Z"/><path d="M1092.95 545.48L1104.82 538.63L1104.82 552.33Z"/><path d="M1095 545.45L1106.86 538.6L1106.86 552.3Z"/><path d="M1097.01 545.42L1108.88 538.57L1108.88 552.27Z"/><path d="M1099.01 545.39L1110.88 538.54L1110.88 552.24Z"/><path d="M1100.99 545.36L1112.85 538.51L1112.85 552.21Z"/><path d="M1102.95 545.33L1114.81 538.48L1114.81 552.18Z"/><path d="M1104.89 545.31L1116.75 538.46L1116.75 552.16Z"/><path d="M1106.81 545.28L1118.67 538.43L1118.67 552.13Z"/><path d="M1108.71 545.25L1120.57 538.4L1120.57 552.1Z"/><path d="M1110.59 545.22L1122.45 538.37L1122.45 552.07Z"/><path d="M1112.46 545.19L1124.32 538.34L1124.32 552.04Z"/><path d="M1114.3 545.17L1126.17 538.32L1126.17 552.02Z"/><path d="M1116.13 545.14L1128 538.29L1128 551.99Z"/><path d="M1117.94 545.11L1129.81 538.26L1129.81 551.96Z"/><path d="M1119.74 545.1L1131.6 538.25L1131.6 551.95Z"/><path d="M1121.52 545.1L1133.38 538.25L1133.38 551.95Z"/><path d="M1123.28 545.1L1135.15 538.25L1135.15 551.95Z"/><path d="M1125.03 545.1L1136.89 538.25L1136.89 551.95Z"/><path d="M1126.76 545.1L1138.63 538.25L1138.63 551.95Z"/><path d="M1128.48 545.1L1140.34 538.25L1140.34 551.95Z"/><path d="M1130.18 545.1L1142.05 538.25L1142.05 551.95Z"/><path d="M1131.87 545.1L1143.73 538.25L1143.73 551.95Z"/><path d="M1133.54 545.1L1145.41 538.25L1145.41 551.95Z"/><path d="M1135.2 545.1L1147.06 538.25L1147.06 551.95Z"/><path d="M1136.84 545.1L1148.71 538.25L1148.71 551.95Z"/><path d="M1138.47 545.1L1150.34 538.25L1150.34 551.95Z"/><path d="M1140.09 545.1L1151.96 538.25L1151.96 551.95Z"/><path d="M1141.7 545.1L1153.56 538.25L1153.56 551.95Z"/><path d="M1143.29 545.1L1155.15 538.25L1155.15 551.95Z"/><path d="M1144.86 545.1L1156.73 538.25L1156.73 551.95Z"/><path d="M1146.43 545.1L1158.29 538.25L1158.29 551.95Z"/><path d="M1147.98 545.1L1159.85 538.25L1159.85 551.95Z"/><path d="M1149.52 545.1L1161.39 538.25L1161.39 551.95Z"/><path d="M1151.05 545.1L1162.92 538.25L1162.92 551.95Z"/><path d="M1152.57 545.1L1164.43 538.25L1164.43 551.95Z"/><path d="M1154.07 545.1L1165.94 538.25L1165.94 551.95Z"/><path d="M1155.57 545.1L1167.43 538.25L1167.43 551.95Z"/><path d="M1157.05 545.1L1168.91 538.25L1168.91 551.95Z"/><path d="M1158.52 545.1L1170.38 538.25L1170.38 551.95Z"/><path d="M1159.98 545.1L1171.84 538.25L1171.84 551.95Z"/><path d="M1161.43 545.1L1173.29 538.25L1173.29 551.95Z"/><path d="M1162.87 545.1L1174.73 538.25L1174.73 551.95Z"/><path d="M1164.29 545.1L1176.16 538.25L1176.16 551.95Z"/><path d="M1165.71 545.1L1177.57 538.25L1177.57 551.95Z"/><path d="M1167.12 545.1L1178.98 538.25L1178.98 551.95Z"/><path d="M1168.51 545.1L1180.38 538.25L1180.38 551.95Z"/><path d="M1169.9 545.1L1181.77 538.25L1181.77 551.95Z"/><path d="M1171.28 545.1L1183.14 538.25L1183.14 551.95Z"/><path d="M1172.65 545.1L1184.51 538.25L1184.51 551.95Z"/><path d="M1174 545.1L1185.87 538.25L1185.87 551.95Z"/><path d="M1175.35 545.1L1187.22 538.25L1187.22 551.95Z"/><path d="M1176.69 545.1L1188.56 538.25L1188.56 551.95Z"/><path d="M1178.02 545.1L1189.89 538.25L1189.89 551.95Z"/><path d="M1179.34 545.1L1191.21 538.25L1191.21 551.95Z"/><path d="M1180.66 545.1L1192.52 538.25L1192.52 551.95Z"/><path d="M1181.96 545.1L1193.82 538.25L1193.82 551.95Z"/><path d="M1183.25 545.1L1195.12 538.25L1195.12 551.95Z"/><path d="M1184.54 545.1L1196.41 538.25L1196.41 551.95Z"/><path d="M1185.82 545.1L1197.68 538.25L1197.68 551.95Z"/><path d="M1187.09 545.1L1198.95 538.25L1198.95 551.95Z"/><path d="M1188.35 545.1L1200.21 538.25L1200.21 551.95Z"/><path d="M1189.6 545.1L1201.47 538.25L1201.47 551.95Z"/><path d="M1190.85 545.1L1202.71 538.25L1202.71 551.95Z"/><path d="M1192.09 545.1L1203.95 538.25L1203.95 551.95Z"/><path d="M1193.32 545.1L1205.18 538.25L1205.18 551.95Z"/><path d="M1194.54 545.1L1206.4 538.25L1206.4 551.95Z"/><path d="M1195.75 545.1L1207.62 538.25L1207.62 551.95Z"/><path d="M1196.96 545.1L1208.82 538.25L1208.82 551.95Z"/><path d="M1198.16 545.1L1210.02 538.25L1210.02 551.95Z"/><path d="M1199.35 545.1L1211.21 538.25L1211.21 551.95Z"/><path d="M1200.53 545.1L1212.4 538.25L1212.4 551.95Z"/><path d="M1201.71 545.1L1213.58 538.25L1213.58 551.95Z"/><path d="M1202.88 545.1L1214.75 538.25L1214.75 551.95Z"/><path d="M1204.05 545.1L1215.91 538.25L1215.91 551.95Z"/><path d="M1205.2 545.1L1217.07 538.25L1217.07 551.95Z"/><path d="M1235.12 545.1L1246.99 538.25L1246.99 551.95Z"/><path d="M1263.88 544.83L1275.74 537.98L1275.74 551.68Z"/>
</g>
<g fill="none" stroke="#6cbf47" stroke-width="1.5" stroke-linejoin="miter">
<path d="M70.99 901.36L72.6 906.34L77.83 906.34L73.6 909.41L75.22 914.39L70.99 911.31L66.75 914.39L68.37 909.41L64.14 906.34L69.37 906.34Z"/><path d="M284.92 767.42L286.54 772.39L291.77 772.39L287.54 775.47L289.16 780.44L284.92 777.37L280.69 780.44L282.31 775.47L278.08 772.39L283.31 772.39Z"/><path d="M381.54 712.49L383.16 717.47L388.39 717.47L384.15 720.54L385.77 725.52L381.54 722.44L377.31 725.52L378.92 720.54L374.69 717.47L379.92 717.47Z"/><path d="M447.23 673.88L448.85 678.85L454.08 678.85L449.85 681.93L451.46 686.9L447.23 683.83L443 686.9L444.61 681.93L440.38 678.85L445.61 678.85Z"/><path d="M496.92 646.95L498.54 651.93L503.77 651.93L499.54 655L501.16 659.98L496.92 656.9L492.69 659.98L494.31 655L490.08 651.93L495.31 651.93Z"/><path d="M533.85 627.42L535.46 632.39L540.69 632.39L536.46 635.47L538.08 640.44L533.85 637.37L529.61 640.44L531.23 635.47L527 632.39L532.23 632.39Z"/><path d="M567.95 613.68L569.57 618.65L574.8 618.65L570.57 621.73L572.19 626.7L567.95 623.63L563.72 626.7L565.34 621.73L561.11 618.65L566.34 618.65Z"/><path d="M596.21 601.91L597.82 606.89L603.05 606.89L598.82 609.96L600.44 614.94L596.21 611.86L591.97 614.94L593.59 609.96L589.36 606.89L594.59 606.89Z"/><path d="M620.33 592.9L621.94 597.88L627.17 597.88L622.94 600.95L624.56 605.93L620.33 602.85L616.09 605.93L617.71 600.95L613.48 597.88L618.71 597.88Z"/><path d="M641.99 584.61L643.6 589.59L648.83 589.59L644.6 592.66L646.22 597.64L641.99 594.57L637.75 597.64L639.37 592.66L635.14 589.59L640.37 589.59Z"/><path d="M661.57 577.75L663.19 582.73L668.42 582.73L664.18 585.8L665.8 590.78L661.57 587.7L657.34 590.78L658.95 585.8L654.72 582.73L659.95 582.73Z"/><path d="M679.12 573.27L680.73 578.25L685.96 578.25L681.73 581.32L683.35 586.3L679.12 583.22L674.89 586.3L676.5 581.32L672.27 578.25L677.5 578.25Z"/><path d="M694.99 568.55L696.61 573.53L701.84 573.53L697.61 576.6L699.22 581.58L694.99 578.5L690.76 581.58L692.37 576.6L688.14 573.53L693.37 573.53Z"/><path d="M710.23 563.09L711.84 568.07L717.07 568.07L712.84 571.14L714.46 576.12L710.23 573.04L705.99 576.12L707.61 571.14L703.38 568.07L708.61 568.07Z"/><path d="M723.71 558.04L725.32 563.02L730.55 563.02L726.32 566.09L727.94 571.07L723.71 567.99L719.47 571.07L721.09 566.09L716.86 563.02L722.09 563.02Z"/><path d="M736.8 553.08L738.42 558.06L743.65 558.06L739.42 561.13L741.04 566.11L736.8 563.03L732.57 566.11L734.19 561.13L729.96 558.06L735.19 558.06Z"/><path d="M749.19 549.18L750.81 554.15L756.04 554.15L751.81 557.23L753.42 562.2L749.19 559.13L744.96 562.2L746.57 557.23L742.34 554.15L747.57 554.15Z"/><path d="M760.67 546.29L762.29 551.26L767.52 551.26L763.29 554.34L764.91 559.31L760.67 556.24L756.44 559.31L758.06 554.34L753.83 551.26L759.06 551.26Z"/><path d="M771.32 544.38L772.93 549.35L778.16 549.35L773.93 552.43L775.55 557.4L771.32 554.33L767.08 557.4L768.7 552.43L764.47 549.35L769.7 549.35Z"/><path d="M781.75 544.38L783.36 549.35L788.59 549.35L784.36 552.43L785.98 557.4L781.75 554.33L777.51 557.4L779.13 552.43L774.9 549.35L780.13 549.35Z"/><path d="M791.19 544.38L792.8 549.35L798.03 549.35L793.8 552.43L795.42 557.4L791.19 554.33L786.95 557.4L788.57 552.43L784.34 549.35L789.57 549.35Z"/><path d="M800.63 543.9L802.25 548.88L807.48 548.88L803.24 551.95L804.86 556.93L800.63 553.85L796.4 556.93L798.01 551.95L793.78 548.88L799.01 548.88Z"/><path d="M809.64 543.9L811.25 548.88L816.48 548.88L812.25 551.95L813.87 556.93L809.64 553.85L805.4 556.93L807.02 551.95L802.79 548.88L808.02 548.88Z"/><path d="M817.92 543.9L819.54 548.88L824.77 548.88L820.54 551.95L822.16 556.93L817.92 553.85L813.69 556.93L815.31 551.95L811.08 548.88L816.31 548.88Z"/><path d="M826.18 543.71L827.8 548.69L833.03 548.69L828.8 551.76L830.41 556.74L826.18 553.66L821.95 556.74L823.57 551.76L819.33 548.69L824.57 548.69Z"/><path d="M834.03 543.43L835.65 548.4L840.88 548.4L836.65 551.48L838.26 556.45L834.03 553.38L829.8 556.45L831.42 551.48L827.18 548.4L832.41 548.4Z"/><path d="M841.29 543.43L842.91 548.4L848.14 548.4L843.91 551.48L845.52 556.45L841.29 553.38L837.06 556.45L838.68 551.48L834.44 548.4L839.67 548.4Z"/><path d="M848.57 543.14L850.18 548.12L855.41 548.12L851.18 551.19L852.8 556.17L848.57 553.09L844.33 556.17L845.95 551.19L841.72 548.12L846.95 548.12Z"/><path d="M855.45 543.14L857.06 548.12L862.29 548.12L858.06 551.19L859.68 556.17L855.45 553.09L851.21 556.17L852.83 551.19L848.6 548.12L853.83 548.12Z"/><path d="M862.22 542.95L863.84 547.93L869.07 547.93L864.84 551L866.45 555.98L862.22 552.9L857.99 555.98L859.6 551L855.37 547.93L860.6 547.93Z"/><path d="M868.83 542.95L870.44 547.93L875.68 547.93L871.44 551L873.06 555.98L868.83 552.9L864.6 555.98L866.21 551L861.98 547.93L867.21 547.93Z"/><path d="M875.07 543.14L876.69 548.12L881.92 548.12L877.68 551.19L879.3 556.17L875.07 553.09L870.84 556.17L872.45 551.19L868.22 548.12L873.45 548.12Z"/><path d="M881.12 542.95L882.73 547.93L887.96 547.93L883.73 551L885.35 555.98L881.12 552.9L876.89 555.98L878.5 551L874.27 547.93L879.5 547.93Z"/><path d="M887.12 542.76L888.74 547.74L893.97 547.74L889.74 550.81L891.36 555.79L887.12 552.71L882.89 555.79L884.51 550.81L880.28 547.74L885.51 547.74Z"/><path d="M892.95 542.48L894.57 547.45L899.8 547.45L895.57 550.53L897.18 555.5L892.95 552.43L888.72 555.5L890.34 550.53L886.1 547.45L891.34 547.45Z"/><path d="M898.34 542.48L899.96 547.45L905.19 547.45L900.96 550.53L902.58 555.5L898.34 552.43L894.11 555.5L895.73 550.53L891.5 547.45L896.73 547.45Z"/><path d="M903.85 542.29L905.47 547.26L910.7 547.26L906.47 550.34L908.08 555.31L903.85 552.24L899.62 555.31L901.23 550.34L897 547.26L902.23 547.26Z"/><path d="M909.17 542.29L910.78 547.26L916.01 547.26L911.78 550.34L913.4 555.31L909.17 552.24L904.93 555.31L906.55 550.34L902.32 547.26L907.55 547.26Z"/><path d="M914.34 542.25L915.96 547.23L921.19 547.23L916.96 550.3L918.57 555.28L914.34 552.2L910.11 555.28L911.73 550.3L907.49 547.23L912.72 547.23Z"/><path d="M919.38 542.16L921 547.14L926.23 547.14L922 550.21L923.61 555.19L919.38 552.11L915.15 555.19L916.77 550.21L912.53 547.14L917.77 547.14Z"/><path d="M924.3 542.07L925.91 547.05L931.14 547.05L926.91 550.12L928.53 555.1L924.3 552.02L920.06 555.1L921.68 550.12L917.45 547.05L922.68 547.05Z"/><path d="M929.09 541.99L930.71 546.96L935.94 546.96L931.71 550.04L933.32 555.01L929.09 551.94L924.86 555.01L926.47 550.04L922.24 546.96L927.47 546.96Z"/><path d="M933.77 541.9L935.38 546.88L940.62 546.88L936.38 549.95L938 554.93L933.77 551.85L929.54 554.93L931.15 549.95L926.92 546.88L932.15 546.88Z"/><path d="M938.34 541.82L939.95 546.8L945.18 546.8L940.95 549.87L942.57 554.85L938.34 551.77L934.1 554.85L935.72 549.87L931.49 546.8L936.72 546.8Z"/><path d="M942.8 541.74L944.42 546.72L949.65 546.72L945.42 549.79L947.03 554.77L942.8 551.69L938.57 554.77L940.18 549.79L935.95 546.72L941.18 546.72Z"/><path d="M947.16 541.66L948.78 546.64L954.01 546.64L949.78 549.71L951.4 554.69L947.16 551.61L942.93 554.69L944.55 549.71L940.32 546.64L945.55 546.64Z"/><path d="M951.43 541.59L953.05 546.56L958.28 546.56L954.05 549.64L955.66 554.61L951.43 551.54L947.2 554.61L948.82 549.64L944.59 546.56L949.82 546.56Z"/><path d="M955.61 541.51L957.23 546.49L962.46 546.49L958.23 549.56L959.84 554.54L955.61 551.46L951.38 554.54L952.99 549.56L948.76 546.49L953.99 546.49Z"/><path d="M959.7 541.44L961.32 546.41L966.55 546.41L962.32 549.49L963.93 554.46L959.7 551.39L955.47 554.46L957.08 549.49L952.85 546.41L958.08 546.41Z"/><path d="M963.7 541.37L965.32 546.34L970.55 546.34L966.32 549.42L967.94 554.39L963.7 551.32L959.47 554.39L961.09 549.42L956.86 546.34L962.09 546.34Z"/><path d="M967.63 541.3L969.25 546.27L974.48 546.27L970.25 549.35L971.86 554.32L967.63 551.25L963.4 554.32L965.01 549.35L960.78 546.27L966.01 546.27Z"/><path d="M971.48 541.23L973.09 546.2L978.32 546.2L974.09 549.28L975.71 554.25L971.48 551.18L967.24 554.25L968.86 549.28L964.63 546.2L969.86 546.2Z"/><path d="M975.25 541.16L976.87 546.13L982.1 546.13L977.87 549.21L979.48 554.18L975.25 551.11L971.02 554.18L972.63 549.21L968.4 546.13L973.63 546.13Z"/><path d="M978.95 541.09L980.57 546.07L985.8 546.07L981.57 549.14L983.18 554.12L978.95 551.04L974.72 554.12L976.34 549.14L972.1 546.07L977.33 546.07Z"/><path d="M982.58 541.03L984.2 546L989.43 546L985.2 549.08L986.82 554.05L982.58 550.98L978.35 554.05L979.97 549.08L975.74 546L980.97 546Z"/><path d="M986.15 540.96L987.77 545.94L993 545.94L988.77 549.01L990.38 553.99L986.15 550.91L981.92 553.99L983.53 549.01L979.3 545.94L984.53 545.94Z"/><path d="M989.65 540.9L991.27 545.88L996.5 545.88L992.27 548.95L993.88 553.93L989.65 550.85L985.42 553.93L987.04 548.95L982.8 545.88L988.03 545.88Z"/><path d="M993.09 540.84L994.71 545.81L999.94 545.81L995.71 548.89L997.32 553.86L993.09 550.79L988.86 553.86L990.48 548.89L986.24 545.81L991.47 545.81Z"/><path d="M996.47 540.78L998.09 545.75L1003.32 545.75L999.09 548.83L1000.7 553.8L996.47 550.73L992.24 553.8L993.86 548.83L989.62 545.75L994.85 545.75Z"/><path d="M999.79 540.72L1001.41 545.69L1006.64 545.69L1002.41 548.77L1004.03 553.74L999.79 550.67L995.56 553.74L997.18 548.77L992.95 545.69L998.18 545.69Z"/><path d="M1003.06 540.66L1004.68 545.64L1009.91 545.64L1005.68 548.71L1007.29 553.69L1003.06 550.61L998.83 553.69L1000.45 548.71L996.21 545.64L1001.44 545.64Z"/><path d="M1006.27 540.6L1007.89 545.58L1013.12 545.58L1008.89 548.65L1010.51 553.63L1006.27 550.55L1002.04 553.63L1003.66 548.65L999.43 545.58L1004.66 545.58Z"/><path d="M1009.44 540.55L1011.05 545.52L1016.28 545.52L1012.05 548.6L1013.67 553.57L1009.44 550.5L1005.2 553.57L1006.82 548.6L1002.59 545.52L1007.82 545.52Z"/><path d="M1012.55 540.49L1014.16 545.47L1019.39 545.47L1015.16 548.54L1016.78 553.52L1012.55 550.44L1008.31 553.52L1009.93 548.54L1005.7 545.47L1010.93 545.47Z"/><path d="M1015.61 540.44L1017.23 545.41L1022.46 545.41L1018.22 548.49L1019.84 553.46L1015.61 550.39L1011.38 553.46L1012.99 548.49L1008.76 545.41L1013.99 545.41Z"/><path d="M1018.62 540.38L1020.24 545.36L1025.47 545.36L1021.24 548.43L1022.86 553.41L1018.62 550.33L1014.39 553.41L1016.01 548.43L1011.78 545.36L1017.01 545.36Z"/><path d="M1021.59 540.33L1023.21 545.3L1028.44 545.3L1024.21 548.38L1025.82 553.35L1021.59 550.28L1017.36 553.35L1018.98 548.38L1014.74 545.3L1019.98 545.3Z"/><path d="M1024.52 540.28L1026.13 545.25L1031.36 545.25L1027.13 548.33L1028.75 553.3L1024.52 550.23L1020.28 553.3L1021.9 548.33L1017.67 545.25L1022.9 545.25Z"/><path d="M1027.4 540.22L1029.01 545.2L1034.24 545.2L1030.01 548.27L1031.63 553.25L1027.4 550.18L1023.16 553.25L1024.78 548.27L1020.55 545.2L1025.78 545.2Z"/><path d="M1030.24 540.17L1031.85 545.15L1037.08 545.15L1032.85 548.22L1034.47 553.2L1030.24 550.12L1026 553.2L1027.62 548.22L1023.39 545.15L1028.62 545.15Z"/><path d="M1033.03 540.12L1034.65 545.1L1039.88 545.1L1035.65 548.17L1037.27 553.15L1033.03 550.07L1028.8 553.15L1030.42 548.17L1026.19 545.1L1031.42 545.1Z"/><path d="M1035.79 540.07L1037.41 545.05L1042.64 545.05L1038.41 548.12L1040.02 553.1L1035.79 550.03L1031.56 553.1L1033.18 548.12L1028.95 545.05L1034.18 545.05Z"/><path d="M1038.51 540.03L1040.13 545L1045.36 545L1041.13 548.08L1042.74 553.05L1038.51 549.98L1034.28 553.05L1035.9 548.08L1031.67 545L1036.9 545Z"/><path d="M1041.2 539.98L1042.81 544.95L1048.04 544.95L1043.81 548.03L1045.43 553L1041.2 549.93L1036.96 553L1038.58 548.03L1034.35 544.95L1039.58 544.95Z"/><path d="M1043.84 539.93L1045.46 544.91L1050.69 544.91L1046.46 547.98L1048.07 552.96L1043.84 549.88L1039.61 552.96L1041.23 547.98L1036.99 544.91L1042.23 544.91Z"/><path d="M1046.45 539.88L1048.07 544.86L1053.3 544.86L1049.07 547.93L1050.68 552.91L1046.45 549.83L1042.22 552.91L1043.84 547.93L1039.61 544.86L1044.84 544.86Z"/><path d="M1049.03 539.84L1050.65 544.81L1055.88 544.81L1051.64 547.89L1053.26 552.86L1049.03 549.79L1044.8 552.86L1046.41 547.89L1042.18 544.81L1047.41 544.81Z"/><path d="M1051.57 539.79L1053.19 544.77L1058.42 544.77L1054.19 547.84L1055.8 552.82L1051.57 549.74L1047.34 552.82L1048.96 547.84L1044.72 544.77L1049.96 544.77Z"/><path d="M1054.08 539.75L1055.7 544.72L1060.93 544.72L1056.7 547.8L1058.31 552.77L1054.08 549.7L1049.85 552.77L1051.47 547.8L1047.23 544.72L1052.47 544.72Z"/><path d="M1056.56 539.7L1058.18 544.68L1063.41 544.68L1059.18 547.75L1060.79 552.73L1056.56 549.65L1052.33 552.73L1053.94 547.75L1049.71 544.68L1054.94 544.68Z"/><path d="M1059.01 539.66L1060.62 544.64L1065.85 544.64L1061.62 547.71L1063.24 552.69L1059.01 549.61L1054.78 552.69L1056.39 547.71L1052.16 544.64L1057.39 544.64Z"/><path d="M1061.42 539.62L1063.04 544.59L1068.27 544.59L1064.04 547.67L1065.66 552.64L1061.42 549.57L1057.19 552.64L1058.81 547.67L1054.58 544.59L1059.81 544.59Z"/><path d="M1063.81 539.57L1065.43 544.55L1070.66 544.55L1066.43 547.62L1068.04 552.6L1063.81 549.53L1059.58 552.6L1061.2 547.62L1056.96 544.55L1062.19 544.55Z"/><path d="M1066.17 539.53L1067.79 544.51L1073.02 544.51L1068.78 547.58L1070.4 552.56L1066.17 549.48L1061.94 552.56L1063.55 547.58L1059.32 544.51L1064.55 544.51Z"/><path d="M1068.5 539.49L1070.12 544.47L1075.35 544.47L1071.11 547.54L1072.73 552.52L1068.5 549.44L1064.27 552.52L1065.88 547.54L1061.65 544.47L1066.88 544.47Z"/><path d="M1070.8 539.45L1072.42 544.42L1077.65 544.43L1073.42 547.5L1075.03 552.47L1070.8 549.4L1066.57 552.47L1068.19 547.5L1063.95 544.43L1069.19 544.42Z"/><path d="M1073.08 539.41L1074.69 544.38L1079.93 544.38L1075.69 547.46L1077.31 552.43L1073.08 549.36L1068.85 552.43L1070.46 547.46L1066.23 544.38L1071.46 544.38Z"/><path d="M1075.33 539.37L1076.94 544.34L1082.17 544.34L1077.94 547.42L1079.56 552.39L1075.33 549.32L1071.09 552.39L1072.71 547.42L1068.48 544.34L1073.71 544.34Z"/><path d="M1077.55 539.33L1079.17 544.3L1084.4 544.3L1080.17 547.38L1081.78 552.35L1077.55 549.28L1073.32 552.35L1074.93 547.38L1070.7 544.3L1075.93 544.3Z"/><path d="M1079.75 539.29L1081.37 544.27L1086.6 544.27L1082.37 547.34L1083.98 552.32L1079.75 549.24L1075.52 552.32L1077.13 547.34L1072.9 544.27L1078.13 544.27Z"/><path d="M1081.92 539.25L1083.54 544.23L1088.77 544.23L1084.54 547.3L1086.16 552.28L1081.92 549.2L1077.69 552.28L1079.31 547.3L1075.08 544.23L1080.31 544.23Z"/><path d="M1084.07 539.21L1085.69 544.19L1090.92 544.19L1086.69 547.26L1088.31 552.24L1084.07 549.16L1079.84 552.24L1081.46 547.26L1077.23 544.19L1082.46 544.19Z"/><path d="M1086.2 539.18L1087.82 544.15L1093.05 544.15L1088.82 547.23L1090.43 552.2L1086.2 549.13L1081.97 552.2L1083.58 547.23L1079.35 544.15L1084.58 544.15Z"/><path d="M1088.3 539.14L1089.92 544.11L1095.15 544.11L1090.92 547.19L1092.54 552.16L1088.3 549.09L1084.07 552.16L1085.69 547.19L1081.46 544.11L1086.69 544.11Z"/><path d="M1090.39 539.1L1092 544.08L1097.23 544.08L1093 547.15L1094.62 552.13L1090.39 549.05L1086.15 552.13L1087.77 547.15L1083.54 544.08L1088.77 544.08Z"/><path d="M1092.44 539.06L1094.06 544.04L1099.29 544.04L1095.06 547.11L1096.68 552.09L1092.44 549.01L1088.21 552.09L1089.83 547.11L1085.6 544.04L1090.83 544.04Z"/><path d="M1094.48 539.03L1096.1 544L1101.33 544L1097.1 547.08L1098.71 552.05L1094.48 548.98L1090.25 552.05L1091.87 547.08L1087.64 544L1092.87 544Z"/><path d="M1096.5 538.99L1098.12 543.97L1103.35 543.97L1099.12 547.04L1100.73 552.02L1096.5 548.94L1092.27 552.02L1093.88 547.04L1089.65 543.97L1094.88 543.97Z"/><path d="M1098.5 538.96L1100.11 543.93L1105.34 543.93L1101.11 547.01L1102.73 551.98L1098.5 548.91L1094.26 551.98L1095.88 547.01L1091.65 543.93L1096.88 543.93Z"/><path d="M1100.47 538.92L1102.09 543.9L1107.32 543.9L1103.09 546.97L1104.7 551.95L1100.47 548.87L1096.24 551.95L1097.86 546.97L1093.62 543.9L1098.85 543.9Z"/><path d="M1102.43 538.89L1104.04 543.86L1109.27 543.86L1105.04 546.94L1106.66 551.91L1102.43 548.84L1098.2 551.91L1099.81 546.94L1095.58 543.86L1100.81 543.86Z"/><path d="M1104.36 538.85L1105.98 543.83L1111.21 543.83L1106.98 546.9L1108.6 551.88L1104.36 548.8L1100.13 551.88L1101.75 546.9L1097.52 543.83L1102.75 543.83Z"/><path d="M1106.28 538.82L1107.9 543.79L1113.13 543.79L1108.9 546.87L1110.51 551.84L1106.28 548.77L1102.05 551.84L1103.67 546.87L1099.43 543.79L1104.66 543.79Z"/><path d="M1108.18 538.78L1109.8 543.76L1115.03 543.76L1110.8 546.83L1112.41 551.81L1108.18 548.73L1103.95 551.81L1105.56 546.83L1101.33 543.76L1106.56 543.76Z"/><path d="M1110.06 538.75L1111.68 543.73L1116.91 543.73L1112.68 546.8L1114.29 551.78L1110.06 548.7L1105.83 551.78L1107.45 546.8L1103.21 543.73L1108.44 543.73Z"/><path d="M1111.92 538.72L1113.54 543.69L1118.77 543.69L1114.54 546.77L1116.16 551.74L1111.92 548.67L1107.69 551.74L1109.31 546.77L1105.08 543.69L1110.31 543.69Z"/><path d="M1113.77 538.69L1115.39 543.66L1120.62 543.66L1116.38 546.74L1118 551.71L1113.77 548.64L1109.54 551.71L1111.15 546.74L1106.92 543.66L1112.15 543.66Z"/><path d="M1115.6 538.65L1117.21 543.63L1122.44 543.63L1118.21 546.7L1119.83 551.68L1115.6 548.6L1111.36 551.68L1112.98 546.7L1108.75 543.63L1113.98 543.63Z"/><path d="M1117.41 538.62L1119.02 543.6L1124.25 543.6L1120.02 546.67L1121.64 551.65L1117.41 548.57L1113.17 551.65L1114.79 546.67L1110.56 543.6L1115.79 543.6Z"/><path d="M1119.2 538.59L1120.82 543.56L1126.05 543.56L1121.82 546.64L1123.43 551.61L1119.2 548.54L1114.97 551.61L1116.59 546.64L1112.35 543.56L1117.58 543.56Z"/><path d="M1120.98 538.56L1122.6 543.53L1127.83 543.53L1123.59 546.61L1125.21 551.58L1120.98 548.51L1116.75 551.58L1118.36 546.61L1114.13 543.53L1119.36 543.53Z"/><path d="M1122.74 538.53L1124.36 543.5L1129.59 543.5L1125.36 546.58L1126.97 551.55L1122.74 548.48L1118.51 551.55L1120.12 546.58L1115.89 543.5L1121.12 543.5Z"/><path d="M1124.49 538.49L1126.1 543.47L1131.33 543.47L1127.1 546.54L1128.72 551.52L1124.49 548.45L1120.25 551.52L1121.87 546.54L1117.64 543.47L1122.87 543.47Z"/><path d="M1126.22 538.46L1127.83 543.44L1133.06 543.44L1128.83 546.51L1130.45 551.49L1126.22 548.41L1121.98 551.49L1123.6 546.51L1119.37 543.44L1124.6 543.44Z"/><path d="M1127.93 538.46L1129.55 543.43L1134.78 543.43L1130.55 546.51L1132.16 551.48L1127.93 548.41L1123.7 551.48L1125.32 546.51L1121.08 543.43L1126.32 543.43Z"/><path d="M1129.63 538.46L1131.25 543.43L1136.48 543.43L1132.25 546.51L1133.86 551.48L1129.63 548.41L1125.4 551.48L1127.02 546.51L1122.78 543.43L1128.02 543.43Z"/><path d="M1131.32 538.46L1132.93 543.43L1138.17 543.43L1133.93 546.51L1135.55 551.48L1131.32 548.41L1127.09 551.48L1128.7 546.51L1124.47 543.43L1129.7 543.43Z"/><path d="M1132.99 538.46L1134.61 543.43L1139.84 543.43L1135.6 546.51L1137.22 551.48L1132.99 548.41L1128.76 551.48L1130.37 546.51L1126.14 543.43L1131.37 543.43Z"/><path d="M1134.65 538.46L1136.26 543.43L1141.49 543.43L1137.26 546.51L1138.88 551.48L1134.65 548.41L1130.41 551.48L1132.03 546.51L1127.8 543.43L1133.03 543.43Z"/><path d="M1136.29 538.46L1137.9 543.43L1143.14 543.43L1138.9 546.51L1140.52 551.48L1136.29 548.41L1132.06 551.48L1133.67 546.51L1129.44 543.43L1134.67 543.43Z"/><path d="M1137.92 538.46L1139.53 543.43L1144.77 543.43L1140.53 546.51L1142.15 551.48L1137.92 548.41L1133.69 551.48L1135.3 546.51L1131.07 543.43L1136.3 543.43Z"/><path d="M1139.53 538.46L1141.15 543.43L1146.38 543.43L1142.15 546.51L1143.77 551.48L1139.53 548.41L1135.3 551.48L1136.92 546.51L1132.69 543.43L1137.92 543.43Z"/><path d="M1141.14 538.46L1142.75 543.43L1147.98 543.43L1143.75 546.51L1145.37 551.48L1141.14 548.41L1136.9 551.48L1138.52 546.51L1134.29 543.43L1139.52 543.43Z"/><path d="M1142.72 538.46L1144.34 543.43L1149.57 543.43L1145.34 546.51L1146.96 551.48L1142.72 548.41L1138.49 551.48L1140.11 546.51L1135.88 543.43L1141.11 543.43Z"/><path d="M1144.3 538.46L1145.92 543.43L1151.15 543.43L1146.92 546.51L1148.53 551.48L1144.3 548.41L1140.07 551.48L1141.69 546.51L1137.45 543.43L1142.68 543.43Z"/><path d="M1145.87 538.46L1147.48 543.43L1152.71 543.43L1148.48 546.51L1150.1 551.48L1145.87 548.41L1141.63 551.48L1143.25 546.51L1139.02 543.43L1144.25 543.43Z"/><path d="M1147.42 538.46L1149.03 543.43L1154.26 543.43L1150.03 546.51L1151.65 551.48L1147.42 548.41L1143.18 551.48L1144.8 546.51L1140.57 543.43L1145.8 543.43Z"/><path d="M1148.96 538.46L1150.57 543.43L1155.8 543.43L1151.57 546.51L1153.19 551.48L1148.96 548.41L1144.72 551.48L1146.34 546.51L1142.11 543.43L1147.34 543.43Z"/><path d="M1150.48 538.46L1152.1 543.43L1157.33 543.43L1153.1 546.51L1154.71 551.48L1150.48 548.41L1146.25 551.48L1147.87 546.51L1143.64 543.43L1148.87 543.43Z"/><path d="M1152 538.46L1153.61 543.43L1158.85 543.43L1154.61 546.51L1156.23 551.48L1152 548.41L1147.77 551.48L1149.38 546.51L1145.15 543.43L1150.38 543.43Z"/><path d="M1153.5 538.46L1155.12 543.43L1160.35 543.43L1156.12 546.51L1157.73 551.48L1153.5 548.41L1149.27 551.48L1150.89 546.51L1146.65 543.43L1151.88 543.43Z"/><path d="M1154.99 538.46L1156.61 543.43L1161.84 543.43L1157.61 546.51L1159.23 551.48L1154.99 548.41L1150.76 551.48L1152.38 546.51L1148.15 543.43L1153.38 543.43Z"/><path d="M1156.47 538.46L1158.09 543.43L1163.32 543.43L1159.09 546.51L1160.71 551.48L1156.47 548.41L1152.24 551.48L1153.86 546.51L1149.63 543.43L1154.86 543.43Z"/><path d="M1157.94 538.46L1159.56 543.43L1164.79 543.43L1160.56 546.51L1162.18 551.48L1157.94 548.41L1153.71 551.48L1155.33 546.51L1151.1 543.43L1156.33 543.43Z"/><path d="M1159.4 538.46L1161.02 543.43L1166.25 543.43L1162.02 546.51L1163.63 551.48L1159.4 548.41L1155.17 551.48L1156.79 546.51L1152.55 543.43L1157.79 543.43Z"/><path d="M1160.85 538.46L1162.47 543.43L1167.7 543.43L1163.47 546.51L1165.08 551.48L1160.85 548.41L1156.62 551.48L1158.23 546.51L1154 543.43L1159.23 543.43Z"/><path d="M1162.29 538.46L1163.9 543.43L1169.13 543.43L1164.9 546.51L1166.52 551.48L1162.29 548.41L1158.05 551.48L1159.67 546.51L1155.44 543.43L1160.67 543.43Z"/><path d="M1163.71 538.46L1165.33 543.43L1170.56 543.43L1166.33 546.51L1167.95 551.48L1163.71 548.41L1159.48 551.48L1161.1 546.51L1156.87 543.43L1162.1 543.43Z"/><path d="M1165.13 538.46L1166.75 543.43L1171.98 543.43L1167.75 546.51L1169.36 551.48L1165.13 548.41L1160.9 551.48L1162.51 546.51L1158.28 543.43L1163.51 543.43Z"/><path d="M1166.54 538.46L1168.15 543.43L1173.38 543.43L1169.15 546.51L1170.77 551.48L1166.54 548.41L1162.3 551.48L1163.92 546.51L1159.69 543.43L1164.92 543.43Z"/><path d="M1167.93 538.46L1169.55 543.43L1174.78 543.43L1170.55 546.51L1172.16 551.48L1167.93 548.41L1163.7 551.48L1165.32 546.51L1161.08 543.43L1166.31 543.43Z"/><path d="M1169.32 538.46L1170.93 543.43L1176.17 543.43L1171.93 546.51L1173.55 551.48L1169.32 548.41L1165.09 551.48L1166.7 546.51L1162.47 543.43L1167.7 543.43Z"/><path d="M1170.69 538.46L1172.31 543.43L1177.54 543.43L1173.31 546.51L1174.93 551.48L1170.69 548.41L1166.46 551.48L1168.08 546.51L1163.85 543.43L1169.08 543.43Z"/><path d="M1172.06 538.46L1173.68 543.43L1178.91 543.43L1174.68 546.51L1176.29 551.48L1172.06 548.41L1167.83 551.48L1169.44 546.51L1165.21 543.43L1170.44 543.43Z"/><path d="M1173.42 538.46L1175.03 543.43L1180.26 543.43L1176.03 546.51L1177.65 551.48L1173.42 548.41L1169.19 551.48L1170.8 546.51L1166.57 543.43L1171.8 543.43Z"/><path d="M1174.76 538.46L1176.38 543.43L1181.61 543.43L1177.38 546.51L1179 551.48L1174.76 548.41L1170.53 551.48L1172.15 546.51L1167.92 543.43L1173.15 543.43Z"/><path d="M1176.1 538.46L1177.72 543.43L1182.95 543.43L1178.72 546.51L1180.34 551.48L1176.1 548.41L1171.87 551.48L1173.49 546.51L1169.26 543.43L1174.49 543.43Z"/><path d="M1177.43 538.46L1179.05 543.43L1184.28 543.43L1180.05 546.51L1181.66 551.48L1177.43 548.41L1173.2 551.48L1174.82 546.51L1170.58 543.43L1175.82 543.43Z"/><path d="M1178.75 538.46L1180.37 543.43L1185.6 543.43L1181.37 546.51L1182.98 551.48L1178.75 548.41L1174.52 551.48L1176.14 546.51L1171.91 543.43L1177.14 543.43Z"/><path d="M1180.06 538.46L1181.68 543.43L1186.91 543.43L1182.68 546.51L1184.3 551.48L1180.06 548.41L1175.83 551.48L1177.45 546.51L1173.22 543.43L1178.45 543.43Z"/><path d="M1181.37 538.46L1182.98 543.43L1188.21 543.43L1183.98 546.51L1185.6 551.48L1181.37 548.41L1177.13 551.48L1178.75 546.51L1174.52 543.43L1179.75 543.43Z"/><path d="M1182.66 538.46L1184.28 543.43L1189.51 543.43L1185.28 546.51L1186.89 551.48L1182.66 548.41L1178.43 551.48L1180.04 546.51L1175.81 543.43L1181.04 543.43Z"/><path d="M1183.95 538.46L1185.56 543.43L1190.79 543.43L1186.56 546.51L1188.18 551.48L1183.95 548.41L1179.71 551.48L1181.33 546.51L1177.1 543.43L1182.33 543.43Z"/><path d="M1185.22 538.46L1186.84 543.43L1192.07 543.43L1187.84 546.51L1189.46 551.48L1185.22 548.41L1180.99 551.48L1182.61 546.51L1178.38 543.43L1183.61 543.43Z"/><path d="M1186.49 538.46L1188.11 543.43L1193.34 543.43L1189.11 546.51L1190.72 551.48L1186.49 548.41L1182.26 551.48L1183.88 546.51L1179.64 543.43L1184.88 543.43Z"/><path d="M1187.75 538.46L1189.37 543.43L1194.6 543.43L1190.37 546.51L1191.98 551.48L1187.75 548.41L1183.52 551.48L1185.14 546.51L1180.9 543.43L1186.14 543.43Z"/><path d="M1189 538.46L1190.62 543.43L1195.85 543.43L1191.62 546.51L1193.24 551.48L1189 548.41L1184.77 551.48L1186.39 546.51L1182.16 543.43L1187.39 543.43Z"/><path d="M1190.25 538.46L1191.87 543.43L1197.1 543.43L1192.87 546.51L1194.48 551.48L1190.25 548.41L1186.02 551.48L1187.63 546.51L1183.4 543.43L1188.63 543.43Z"/><path d="M1191.49 538.46L1193.1 543.43L1198.33 543.43L1194.1 546.51L1195.72 551.48L1191.49 548.41L1187.25 551.48L1188.87 546.51L1184.64 543.43L1189.87 543.43Z"/><path d="M1192.71 538.46L1194.33 543.43L1199.56 543.43L1195.33 546.51L1196.95 551.48L1192.71 548.41L1188.48 551.48L1190.1 546.51L1185.87 543.43L1191.1 543.43Z"/><path d="M1193.94 538.46L1195.55 543.43L1200.78 543.43L1196.55 546.51L1198.17 551.48L1193.94 548.41L1189.7 551.48L1191.32 546.51L1187.09 543.43L1192.32 543.43Z"/><path d="M1195.15 538.46L1196.77 543.43L1202 543.43L1197.76 546.51L1199.38 551.48L1195.15 548.41L1190.92 551.48L1192.53 546.51L1188.3 543.43L1193.53 543.43Z"/><path d="M1196.36 538.46L1197.97 543.43L1203.2 543.43L1198.97 546.51L1200.59 551.48L1196.36 548.41L1192.12 551.48L1193.74 546.51L1189.51 543.43L1194.74 543.43Z"/><path d="M1197.55 538.46L1199.17 543.43L1204.4 543.43L1200.17 546.51L1201.79 551.48L1197.55 548.41L1193.32 551.48L1194.94 546.51L1190.71 543.43L1195.94 543.43Z"/><path d="M1198.74 538.46L1200.36 543.43L1205.59 543.43L1201.36 546.51L1202.98 551.48L1198.74 548.41L1194.51 551.48L1196.13 546.51L1191.9 543.43L1197.13 543.43Z"/><path d="M1199.93 538.46L1201.55 543.43L1206.78 543.43L1202.54 546.51L1204.16 551.48L1199.93 548.41L1195.7 551.48L1197.31 546.51L1193.08 543.43L1198.31 543.43Z"/><path d="M1201.11 538.46L1202.72 543.43L1207.95 543.43L1203.72 546.51L1205.34 551.48L1201.11 548.41L1196.87 551.48L1198.49 546.51L1194.26 543.43L1199.49 543.43Z"/><path d="M1202.28 538.46L1203.89 543.43L1209.12 543.43L1204.89 546.51L1206.51 551.48L1202.28 548.41L1198.04 551.48L1199.66 546.51L1195.43 543.43L1200.66 543.43Z"/><path d="M1203.44 538.46L1205.05 543.43L1210.29 543.43L1206.05 546.51L1207.67 551.48L1203.44 548.41L1199.21 551.48L1200.82 546.51L1196.59 543.43L1201.82 543.43Z"/><path d="M1204.59 538.46L1206.21 543.43L1211.44 543.43L1207.21 546.51L1208.83 551.48L1204.59 548.41L1200.36 551.48L1201.98 546.51L1197.75 543.43L1202.98 543.43Z"/><path d="M1205.74 538.46L1207.36 543.43L1212.59 543.43L1208.36 546.51L1209.98 551.48L1205.74 548.41L1201.51 551.48L1203.13 546.51L1198.9 543.43L1204.13 543.43Z"/><path d="M1206.89 538.46L1208.5 543.43L1213.73 543.43L1209.5 546.51L1211.12 551.48L1206.89 548.41L1202.65 551.48L1204.27 546.51L1200.04 543.43L1205.27 543.43Z"/><path d="M1208.02 538.46L1209.64 543.43L1214.87 543.43L1210.64 546.51L1212.25 551.48L1208.02 548.41L1203.79 551.48L1205.41 546.51L1201.17 543.43L1206.4 543.43Z"/><path d="M1209.15 538.46L1210.77 543.43L1216 543.43L1211.77 546.51L1213.38 551.48L1209.15 548.41L1204.92 551.48L1206.53 546.51L1202.3 543.43L1207.53 543.43Z"/><path d="M1210.27 538.46L1211.89 543.43L1217.12 543.43L1212.89 546.51L1214.5 551.48L1210.27 548.41L1206.04 551.48L1207.66 546.51L1203.43 543.43L1208.66 543.43Z"/><path d="M1211.39 538.46L1213.01 543.43L1218.24 543.43L1214 546.51L1215.62 551.48L1211.39 548.41L1207.16 551.48L1208.77 546.51L1204.54 543.43L1209.77 543.43Z"/>
</g>
<g fill="none" stroke="#1c5a2c" stroke-width="1.5" stroke-linejoin="miter">
<path d="M190.97 879.25L198.07 891.55L183.87 891.55Z"/><path d="M378.46 758.72L385.56 771.02L371.36 771.02Z"/><path d="M472.31 705.19L479.41 717.48L465.21 717.48Z"/><path d="M533.85 673.03L540.95 685.33L526.75 685.33Z"/><path d="M583.26 648.53L590.36 660.83L576.16 660.83Z"/><path d="M620.33 630.02L627.43 642.32L613.23 642.32Z"/><path d="M652.21 614.77L659.31 627.07L645.11 627.07Z"/><path d="M679.93 603.28L687.03 615.57L672.83 615.57Z"/><path d="M703.34 593.38L710.44 605.68L696.24 605.68Z"/><path d="M724.75 585.5L731.85 597.8L717.65 597.8Z"/><path d="M744.27 578.37L751.37 590.67L737.17 590.67Z"/><path d="M761.91 572.49L769.01 584.78L754.81 584.78Z"/><path d="M777.44 567.24L784.54 579.54L770.34 579.54Z"/><path d="M792.47 563.12L799.57 575.41L785.37 575.41Z"/><path d="M806.38 559.05L813.48 571.35L799.28 571.35Z"/><path d="M819.44 556.25L826.54 568.54L812.34 568.54Z"/><path d="M831.5 553.56L838.6 565.86L824.4 565.86Z"/><path d="M842.64 551.1L849.74 563.4L835.54 563.4Z"/><path d="M853.45 549.15L860.55 561.45L846.35 561.45Z"/><path d="M863.65 547.21L870.75 559.51L856.55 559.51Z"/><path d="M873.47 545.96L880.57 558.26L866.37 558.26Z"/><path d="M882.71 544.81L889.81 557.11L875.61 557.11Z"/><path d="M891.3 543.57L898.4 555.87L884.2 555.87Z"/><path d="M899.88 542.62L906.98 554.92L892.78 554.92Z"/><path d="M907.94 541.95L915.04 554.25L900.84 554.25Z"/><path d="M915.76 541.88L922.86 554.18L908.66 554.18Z"/><path d="M923.28 541.72L930.38 554.02L916.18 554.02Z"/><path d="M930.51 541.57L937.61 553.87L923.41 553.87Z"/><path d="M937.49 541.42L944.59 553.72L930.39 553.72Z"/><path d="M944.23 541.28L951.33 553.58L937.13 553.58Z"/><path d="M950.74 541.14L957.84 553.44L943.64 553.44Z"/><path d="M957.04 541.01L964.14 553.31L949.94 553.31Z"/><path d="M971.3 539.08L978.4 551.37L964.2 551.37Z"/><path d="M985.2 538.93L992.3 551.23L978.1 551.23Z"/><path d="M998.18 538.79L1005.28 551.09L991.08 551.09Z"/><path d="M1010.34 538.67L1017.44 550.97L1003.24 550.97Z"/><path d="M1021.79 538.55L1028.89 550.85L1014.69 550.85Z"/><path d="M1032.6 538.44L1039.7 550.73L1025.5 550.73Z"/><path d="M1042.85 538.33L1049.95 550.63L1035.75 550.63Z"/><path d="M1052.59 538.23L1059.69 550.53L1045.49 550.53Z"/><path d="M1061.86 538.13L1068.96 550.43L1054.76 550.43Z"/><path d="M1070.71 538.04L1077.81 550.34L1063.61 550.34Z"/><path d="M1079.17 537.95L1086.27 550.25L1072.07 550.25Z"/><path d="M1087.29 537.87L1094.39 550.16L1080.19 550.16Z"/><path d="M1095.08 537.79L1102.18 550.08L1087.98 550.08Z"/><path d="M1102.57 537.71L1109.67 550.01L1095.47 550.01Z"/><path d="M1109.78 537.63L1116.88 549.93L1102.68 549.93Z"/><path d="M1116.74 537.56L1123.84 549.86L1109.64 549.86Z"/><path d="M1123.45 537.49L1130.55 549.79L1116.35 549.79Z"/><path d="M1129.95 537.46L1137.05 549.76L1122.85 549.76Z"/><path d="M1136.23 537.46L1143.33 549.76L1129.13 549.76Z"/><path d="M1142.32 537.46L1149.42 549.76L1135.22 549.76Z"/><path d="M1148.22 537.46L1155.32 549.76L1141.12 549.76Z"/><path d="M1153.95 537.46L1161.05 549.76L1146.85 549.76Z"/><path d="M1159.51 537.46L1166.61 549.76L1152.41 549.76Z"/><path d="M1164.93 537.46L1172.03 549.76L1157.83 549.76Z"/><path d="M1170.19 537.46L1177.29 549.76L1163.09 549.76Z"/><path d="M1175.32 537.46L1182.42 549.76L1168.22 549.76Z"/><path d="M1180.31 537.46L1187.41 549.76L1173.21 549.76Z"/><path d="M1185.18 537.46L1192.28 549.76L1178.08 549.76Z"/><path d="M1189.94 537.46L1197.04 549.76L1182.84 549.76Z"/><path d="M1194.57 537.46L1201.67 549.76L1187.47 549.76Z"/><path d="M1199.11 537.46L1206.21 549.76L1192.01 549.76Z"/><path d="M1203.53 537.46L1210.63 549.76L1196.43 549.76Z"/><path d="M1207.86 537.46L1214.96 549.76L1200.76 549.76Z"/><path d="M1212.1 537.46L1219.2 549.76L1205 549.76Z"/><path d="M1257.94 537.18L1265.04 549.48L1250.84 549.48Z"/>
</g>
<g clip-path="url(#c2)">
<path d="M49.96 978.19L55.3 974.4L60.5 970.72L65.56 967.14L70.5 963.66L72.95 961.86L75.39 960.07L77.84 958.29L80.29 956.51L82.74 954.74L85.18 952.98L87.63 951.22L90.08 949.47L92.53 947.73L94.97 946L97.42 944.27L99.87 942.54L102.32 940.83L104.76 939.11L107.21 937.41L109.66 935.71L112.1 934.02L114.55 932.33L117 930.65L119.45 928.97L121.89 927.3L124.34 925.63L126.79 923.97L129.24 922.32L131.68 920.67L134.13 919.02L136.58 917.38L139.02 915.75L141.47 914.12L143.92 912.49L146.37 910.87L148.81 909.25L151.26 907.64L153.71 906.03L156.16 904.43L158.6 902.83L161.05 901.23L163.5 899.64L165.95 898.06L168.39 896.47L170.84 894.9L173.29 893.32L175.73 891.75L178.18 890.18L180.63 888.62L183.08 887.06L185.52 885.51L187.97 883.95L190.42 882.41L192.87 880.86L195.31 879.32L197.76 877.78L200.21 876.25L202.66 874.72L205.1 873.19L207.55 871.66L210 870.14L212.44 868.62L214.89 867.11L217.34 865.59L219.79 864.08L222.23 862.58L224.68 861.07L227.13 859.57L229.58 858.08L232.02 856.58L234.47 855.09L236.92 853.6L239.37 852.11L241.81 850.63L244.26 849.15L246.71 847.67L249.15 846.19L251.6 844.72L254.05 843.25L256.5 841.78L258.94 840.31L261.39 838.85L263.84 837.38L266.29 835.92L268.73 834.47L271.18 833.01L273.63 831.56L276.07 830.11L278.52 828.66L280.97 827.21L283.42 825.77L285.86 824.33L288.31 822.89L290.76 821.45L293.21 820.01L295.65 818.58L298.1 817.15L300.55 815.72L303 814.29L305.44 812.86L307.89 811.44L310.34 810.02L312.78 808.6L315.23 807.18L317.68 805.76L320.13 804.35L322.57 802.93L325.02 801.52L327.47 800.11L329.92 798.7L332.36 797.3L334.81 795.89L337.26 794.49L339.71 793.09L342.15 791.69L344.6 790.29L347.05 788.89L349.49 787.5L351.94 786.1L354.39 784.71L356.84 783.32L359.28 781.93L361.73 780.54L364.18 779.15L366.63 777.76L369.07 776.38L371.52 774.99L373.97 773.61L376.42 772.22L378.86 770.84L381.31 769.46L383.76 768.08L386.2 766.7L388.65 765.32L391.1 763.94L393.55 762.56L395.99 761.18L398.44 759.8L400.89 758.43L403.34 757.05L405.78 755.67L408.23 754.3L410.68 752.92L413.12 751.55L415.57 750.17L418.02 748.79L420.47 747.42L422.91 746.05L425.36 744.67L427.81 743.3L430.26 741.92L432.7 740.55L435.15 739.17L437.6 737.8L440.05 736.43L442.49 735.05L444.94 733.68L447.39 732.3L449.83 730.93L452.28 729.56L454.73 728.18L457.18 726.81L459.62 725.43L462.07 724.06L464.52 722.68L466.97 721.3L469.41 719.93L471.86 718.55L474.31 717.18L476.76 715.8L479.2 714.42L481.65 713.04L484.1 711.67L486.54 710.29L488.99 708.91L491.44 707.53L493.89 706.15L496.33 704.77L498.78 703.39L501.23 702.01L503.68 700.63L506.12 699.25L508.57 697.87L511.02 696.49L513.47 695.1L515.91 693.72L518.36 692.34L520.81 690.95L523.25 689.57L525.7 688.18L528.15 686.8L530.6 685.41L533.04 684.02L535.49 682.64L537.94 681.25L540.39 679.86L542.83 678.48L545.28 677.09L547.73 675.7L550.17 674.31L552.62 672.92L555.07 671.53L557.52 670.14L559.96 668.75L562.41 667.36L564.86 665.97L567.31 664.58L569.75 663.19L572.2 661.81L574.65 660.42L577.1 659.03L579.54 657.64L581.99 656.25L584.44 654.86L586.88 653.48L589.33 652.09L591.78 650.71L594.23 649.32L596.67 647.94L599.12 646.56L601.57 645.18L604.02 643.8L606.46 642.42L608.91 641.04L611.36 639.66L613.81 638.28L616.25 636.91L618.7 635.54L621.15 634.17L623.59 632.8L626.04 631.43L628.49 630.07L630.94 628.71L633.38 627.36L635.83 626.01L638.28 624.66L640.73 623.32L643.17 621.99L645.62 620.66L648.07 619.34L650.51 618.02L652.96 616.71L655.41 615.4L657.86 614.1L660.3 612.81L662.75 611.53L665.2 610.25L667.65 608.98L670.09 607.72L672.54 606.47L674.99 605.22L677.44 603.99L679.88 602.77L682.33 601.55L684.78 600.35L687.22 599.15L689.67 597.97L692.12 596.8L694.57 595.64L697.01 594.5L699.46 593.37L701.91 592.25L704.36 591.14L706.8 590.05L709.25 588.98L711.7 587.92L714.15 586.88L716.59 585.85L719.04 584.84L721.49 583.85L723.93 582.87L726.38 581.91L728.83 580.97L731.28 580.04L733.72 579.14L736.17 578.25L738.62 577.38L741.07 576.53L743.51 575.7L745.96 574.89L748.41 574.1L750.86 573.32L753.3 572.57L755.75 571.83L758.2 571.1L760.64 570.4L763.09 569.7L765.54 569.02L767.99 568.36L770.43 567.7L772.88 567.06L775.33 566.43L777.78 565.81L780.22 565.2L782.67 564.6L785.12 564.02L787.56 563.44L790.01 562.89L792.46 562.34L794.91 561.82L797.35 561.32L799.8 560.83L802.25 560.37L804.7 559.93L807.14 559.51L809.59 559.11L812.04 558.73L814.49 558.36L816.93 558.02L819.38 557.68L821.83 557.36L824.27 557.05L826.72 556.75L829.17 556.46L831.62 556.18L834.06 555.91L836.51 555.65L838.96 555.4L841.41 555.16L843.85 554.93L846.3 554.71L848.75 554.49L851.2 554.29L853.64 554.09L856.09 553.9L858.54 553.71L860.98 553.53L863.43 553.36L865.88 553.2L868.33 553.04L870.77 552.89L873.22 552.75L875.67 552.61L878.12 552.47L880.56 552.34L883.01 552.22L885.46 552.1L887.91 551.99L890.35 551.87L892.8 551.77L895.25 551.67L897.69 551.57L900.14 551.47L902.59 551.38L905.04 551.29L907.48 551.2L909.93 551.12L912.38 551.03L914.83 550.95L917.27 550.88L919.72 550.8L922.17 550.73L924.61 550.66L927.06 550.6L929.51 550.53L931.96 550.47L934.4 550.41L936.85 550.35L939.3 550.3L941.75 550.24L944.19 550.19L946.64 550.14L949.09 550.1L951.54 550.05L953.98 550.01L956.43 549.97L958.88 549.93L961.32 549.9L963.77 549.86L966.22 549.83L968.67 549.8L971.11 549.8L973.56 549.8L976.01 549.8L978.46 549.8L980.9 549.8L983.35 549.8L985.8 549.8L988.25 549.8L990.69 549.8L993.14 549.8L995.59 549.8L998.03 549.8L1000.48 549.8L1002.93 549.8L1005.38 549.8L1007.82 549.8L1010.27 549.8L1012.72 549.8L1015.17 549.8L1017.61 549.8L1020.06 549.8L1022.51 549.8L1024.95 549.8L1027.4 549.8L1029.85 549.8L1032.3 549.8L1034.74 549.8L1037.19 549.8L1039.64 549.8L1042.09 549.8L1044.53 549.8L1046.98 549.8L1049.43 549.8L1051.88 549.8L1054.32 549.8L1056.77 549.8L1059.22 549.8L1061.66 549.8L1064.11 549.8L1066.56 549.8L1069.01 549.8L1071.45 549.8L1073.9 549.8L1076.35 549.8L1078.8 549.8L1081.24 549.8L1083.69 549.8L1086.14 549.8L1088.59 549.8L1091.03 549.8L1093.48 549.8L1095.93 549.8L1098.37 549.8L1100.82 549.8L1103.27 549.8L1105.72 549.8L1108.16 549.8L1110.61 549.8L1113.06 549.8L1115.51 549.8L1117.95 549.8L1120.4 549.8L1122.85 549.8L1125.3 549.8L1127.74 549.8L1130.19 549.8L1132.64 549.8L1135.08 549.8L1137.53 549.8L1139.98 549.8L1142.43 549.8L1144.87 549.8L1147.32 549.8L1149.77 549.8L1152.22 549.8L1154.66 549.8L1157.11 549.8L1159.56 549.8L1162 549.8L1164.45 549.8L1166.9 549.8L1169.35 549.8L1171.79 549.8L1174.24 549.8L1176.69 549.8L1179.14 549.8L1181.58 549.8L1184.03 549.8L1186.48 549.8L1188.93 549.8L1191.37 549.8L1193.82 549.8L1196.27 549.8L1198.71 549.8L1201.16 549.8L1203.61 549.8L1206.06 549.8L1208.5 549.8L1210.95 549.8L1213.4 549.8L1215.85 549.8L1218.29 549.8L1220.74 549.8L1223.19 549.8L1225.64 549.8L1228.08 549.8L1230.53 549.8L1232.98 549.8L1235.42 549.8L1237.87 549.8L1240.32 549.8L1242.77 549.8L1245.21 549.8L1247.66 549.8L1250.11 549.8L1252.56 549.8L1255 549.8L1257.45 549.8L1259.9 549.8L1262.35 549.8L1264.79 549.8L1267.24 549.8L1269.69 549.8L1272.13 549.8L1274.58 549.8L1277.03 549.8L1279.48 549.8L1281.92 549.8L1284.37 549.8L1286.82 549.8L1289.27 549.8L1291.71 549.8" fill="none" stroke="#1c5a2c" stroke-width="3.3" stroke-linejoin="round"/>
<path d="M49.96 928.57L55.3 924.49L60.5 920.58L65.56 916.85L70.5 913.3L72.95 911.61L75.39 909.92L77.84 908.24L80.29 906.56L82.74 904.89L85.18 903.23L87.63 901.57L90.08 899.92L92.53 898.27L94.97 896.63L97.42 894.99L99.87 893.37L102.32 891.74L104.76 890.13L107.21 888.52L109.66 886.91L112.1 885.31L114.55 883.72L117 882.13L119.45 880.55L121.89 878.98L124.34 877.41L126.79 875.85L129.24 874.29L131.68 872.74L134.13 871.19L136.58 869.65L139.02 868.12L141.47 866.59L143.92 865.07L146.37 863.55L148.81 862.04L151.26 860.54L153.71 859.04L156.16 857.55L158.6 856.06L161.05 854.58L163.5 853.1L165.95 851.63L168.39 850.17L170.84 848.71L173.29 847.25L175.73 845.81L178.18 844.36L180.63 842.93L183.08 841.5L185.52 840.07L187.97 838.65L190.42 837.24L192.87 835.83L195.31 834.43L197.76 833.03L200.21 831.64L202.66 830.25L205.1 828.87L207.55 827.49L210 826.12L212.44 824.75L214.89 823.39L217.34 822.02L219.79 820.67L222.23 819.31L224.68 817.96L227.13 816.61L229.58 815.27L232.02 813.92L234.47 812.58L236.92 811.24L239.37 809.91L241.81 808.57L244.26 807.24L246.71 805.91L249.15 804.57L251.6 803.24L254.05 801.91L256.5 800.59L258.94 799.26L261.39 797.93L263.84 796.6L266.29 795.27L268.73 793.95L271.18 792.62L273.63 791.29L276.07 789.96L278.52 788.63L280.97 787.3L283.42 785.97L285.86 784.64L288.31 783.31L290.76 781.97L293.21 780.64L295.65 779.3L298.1 777.96L300.55 776.62L303 775.28L305.44 773.94L307.89 772.59L310.34 771.24L312.78 769.89L315.23 768.54L317.68 767.18L320.13 765.82L322.57 764.46L325.02 763.1L327.47 761.73L329.92 760.36L332.36 758.99L334.81 757.62L337.26 756.24L339.71 754.86L342.15 753.47L344.6 752.09L347.05 750.7L349.49 749.3L351.94 747.9L354.39 746.5L356.84 745.1L359.28 743.69L361.73 742.28L364.18 740.86L366.63 739.44L369.07 738.02L371.52 736.59L373.97 735.16L376.42 733.73L378.86 732.29L381.31 730.86L383.76 729.41L386.2 727.97L388.65 726.53L391.1 725.08L393.55 723.63L395.99 722.18L398.44 720.73L400.89 719.28L403.34 717.82L405.78 716.37L408.23 714.91L410.68 713.45L413.12 711.99L415.57 710.53L418.02 709.07L420.47 707.61L422.91 706.15L425.36 704.69L427.81 703.23L430.26 701.77L432.7 700.31L435.15 698.85L437.6 697.39L440.05 695.93L442.49 694.47L444.94 693.01L447.39 691.55L449.83 690.09L452.28 688.63L454.73 687.18L457.18 685.72L459.62 684.27L462.07 682.82L464.52 681.37L466.97 679.92L469.41 678.47L471.86 677.02L474.31 675.58L476.76 674.13L479.2 672.69L481.65 671.25L484.1 669.81L486.54 668.38L488.99 666.94L491.44 665.51L493.89 664.08L496.33 662.65L498.78 661.23L501.23 659.81L503.68 658.39L506.12 656.97L508.57 655.55L511.02 654.14L513.47 652.73L515.91 651.32L518.36 649.92L520.81 648.51L523.25 647.11L525.7 645.72L528.15 644.32L530.6 642.93L533.04 641.55L535.49 640.16L537.94 638.79L540.39 637.41L542.83 636.04L545.28 634.68L547.73 633.32L550.17 631.97L552.62 630.62L555.07 629.28L557.52 627.94L559.96 626.61L562.41 625.29L564.86 623.98L567.31 622.67L569.75 621.37L572.2 620.08L574.65 618.8L577.1 617.52L579.54 616.26L581.99 615L584.44 613.75L586.88 612.51L589.33 611.28L591.78 610.05L594.23 608.84L596.67 607.64L599.12 606.45L601.57 605.26L604.02 604.09L606.46 602.93L608.91 601.78L611.36 600.64L613.81 599.51L616.25 598.39L618.7 597.28L621.15 596.18L623.59 595.1L626.04 594.03L628.49 592.97L630.94 591.92L633.38 590.88L635.83 589.86L638.28 588.84L640.73 587.85L643.17 586.86L645.62 585.88L648.07 584.92L650.51 583.98L652.96 583.04L655.41 582.12L657.86 581.21L660.3 580.32L662.75 579.44L665.2 578.57L667.65 577.72L670.09 576.88L672.54 576.06L674.99 575.25L677.44 574.46L679.88 573.68L682.33 572.91L684.78 572.16L687.22 571.43L689.67 570.71L692.12 570.01L694.57 569.32L697.01 568.65L699.46 567.99L701.91 567.35L704.36 566.72L706.8 566.11L709.25 565.52L711.7 564.95L714.15 564.39L716.59 563.84L719.04 563.31L721.49 562.79L723.93 562.29L726.38 561.81L728.83 561.33L731.28 560.88L733.72 560.43L736.17 560L738.62 559.58L741.07 559.18L743.51 558.79L745.96 558.41L748.41 558.04L750.86 557.69L753.3 557.35L755.75 557.02L758.2 556.7L760.64 556.4L763.09 556.1L765.54 555.82L767.99 555.55L770.43 555.29L772.88 555.05L775.33 554.81L777.78 554.59L780.22 554.37L782.67 554.17L785.12 553.98L787.56 553.8L790.01 553.63L792.46 553.46L794.91 553.31L797.35 553.17L799.8 553.03L802.25 552.9L804.7 552.78L807.14 552.67L809.59 552.56L812.04 552.45L814.49 552.35L816.93 552.25L819.38 552.16L821.83 552.06L824.27 551.97L826.72 551.88L829.17 551.79L831.62 551.69L834.06 551.6L836.51 551.5L838.96 551.4L841.41 551.3L843.85 551.2L846.3 551.1L848.75 551L851.2 550.9L853.64 550.8L856.09 550.7L858.54 550.61L860.98 550.52L863.43 550.43L865.88 550.35L868.33 550.27L870.77 550.2L873.22 550.13L875.67 550.07L878.12 550.02L880.56 549.97L883.01 549.92L885.46 549.88L887.91 549.85L890.35 549.81L892.8 549.8L895.25 549.8L897.69 549.8L900.14 549.8L902.59 549.8L905.04 549.8L907.48 549.8L909.93 549.8L912.38 549.8L914.83 549.8L917.27 549.8L919.72 549.8L922.17 549.8L924.61 549.8L927.06 549.8L929.51 549.8L931.96 549.8L934.4 549.8L936.85 549.8L939.3 549.8L941.75 549.8L944.19 549.8L946.64 549.8L949.09 549.8L951.54 549.8L953.98 549.8L956.43 549.8L958.88 549.8L961.32 549.8L963.77 549.8L966.22 549.8L968.67 549.8L971.11 549.8L973.56 549.8L976.01 549.8L978.46 549.8L980.9 549.8L983.35 549.8L985.8 549.8L988.25 549.8L990.69 549.8L993.14 549.8L995.59 549.8L998.03 549.8L1000.48 549.8L1002.93 549.8L1005.38 549.8L1007.82 549.8L1010.27 549.8L1012.72 549.8L1015.17 549.8L1017.61 549.8L1020.06 549.8L1022.51 549.8L1024.95 549.8L1027.4 549.8L1029.85 549.8L1032.3 549.8L1034.74 549.8L1037.19 549.8L1039.64 549.8L1042.09 549.8L1044.53 549.8L1046.98 549.8L1049.43 549.8L1051.88 549.8L1054.32 549.8L1056.77 549.8L1059.22 549.8L1061.66 549.8L1064.11 549.8L1066.56 549.8L1069.01 549.8L1071.45 549.8L1073.9 549.8L1076.35 549.8L1078.8 549.8L1081.24 549.8L1083.69 549.8L1086.14 549.8L1088.59 549.8L1091.03 549.8L1093.48 549.8L1095.93 549.8L1098.37 549.8L1100.82 549.8L1103.27 549.8L1105.72 549.8L1108.16 549.8L1110.61 549.8L1113.06 549.8L1115.51 549.8L1117.95 549.8L1120.4 549.8L1122.85 549.8L1125.3 549.8L1127.74 549.8L1130.19 549.8L1132.64 549.8L1135.08 549.8L1137.53 549.8L1139.98 549.8L1142.43 549.8L1144.87 549.8L1147.32 549.8L1149.77 549.8L1152.22 549.8L1154.66 549.8L1157.11 549.8L1159.56 549.8L1162 549.8L1164.45 549.8L1166.9 549.8L1169.35 549.8L1171.79 549.8L1174.24 549.8L1176.69 549.8L1179.14 549.8L1181.58 549.8L1184.03 549.8L1186.48 549.8L1188.93 549.8L1191.37 549.8L1193.82 549.8L1196.27 549.8L1198.71 549.8L1201.16 549.8L1203.61 549.8L1206.06 549.8L1208.5 549.8L1210.95 549.8L1213.4 549.8L1215.85 549.8L1218.29 549.8L1220.74 549.8L1223.19 549.8L1225.64 549.8L1228.08 549.8L1230.53 549.8L1232.98 549.8L1235.42 549.8L1237.87 549.8L1240.32 549.8L1242.77 549.8L1245.21 549.8L1247.66 549.8L1250.11 549.8L1252.56 549.8L1255 549.8L1257.45 549.8L1259.9 549.8L1262.35 549.8L1264.79 549.8L1267.24 549.8L1269.69 549.8L1272.13 549.8L1274.58 549.8L1277.03 549.8L1279.48 549.8L1281.92 549.8L1284.37 549.8L1286.82 549.8L1289.27 549.8L1291.71 549.8" fill="none" stroke="#6cbf47" stroke-width="3.0" stroke-linejoin="round" stroke-dasharray="12.05 11.54" stroke-dashoffset="-1.15"/>
<path d="M49.96 874.24L498.36 559.37" fill="none" stroke="#000" stroke-width="6.4" stroke-linejoin="round"/>
</g>
<g font-family="'Liberation Sans', Arial, Helvetica, sans-serif" font-size="19.8" fill="#1f1f1f" stroke="#1f1f1f" stroke-width="0.25">
<text x="60.6" y="988.8" text-anchor="end">1</text>
<text x="57.7" y="877.77" text-anchor="end">1.5</text>
<text x="60.6" y="799" text-anchor="end">2</text>
<text x="57.7" y="737.9" text-anchor="end">2.5</text>
<text x="60.6" y="687.97" text-anchor="end">3</text>
<text x="57.7" y="645.76" text-anchor="end">3.5</text>
<text x="60.6" y="609.2" text-anchor="end">4</text>
<text x="57.7" y="576.95" text-anchor="end">4.5</text>
<text x="60.6" y="548.1" text-anchor="end">5</text>
<text x="57.7" y="522" text-anchor="end">5.5</text>
<text x="389.6" y="1013.3" text-anchor="end">10</text>
<text x="391.7" y="1005.2" font-size="15.8">2</text>
<text x="838.55" y="1013.3" text-anchor="end">10</text>
<text x="840.65" y="1005.2" font-size="15.8">3</text>
<text x="1287.5" y="1013.3" text-anchor="end">10</text>
<text x="1289.6" y="1005.2" font-size="15.8">4</text>
</g>
<text transform="translate(17.0 748.3) rotate(-90)" text-anchor="middle" font-family="'Liberation Serif', 'Times New Roman', serif" font-size="23.4" fill="#1f1f1f" stroke="#222" stroke-width="0.3" textLength="186" lengthAdjust="spacing">volume Uptake [ml]</text>
<text x="676.5" y="1040.6" text-anchor="middle" font-family="'Liberation Serif', 'Times New Roman', serif" font-size="23.4" fill="#1f1f1f" stroke="#222" stroke-width="0.3" textLength="76.5" lengthAdjust="spacing">Time [s]</text>
<text y="642.4" font-family="'Liberation Serif', 'Times New Roman', serif" font-size="33" fill="#000"><tspan x="227.5" font-style="italic">V</tspan><tspan x="295" font-style="italic">t</tspan></text>
<text x="258.3" y="647.8" font-family="'DejaVu Sans', sans-serif" font-size="41.5" fill="#000">∝</text>
<text y="630.6" font-family="'Liberation Serif', 'Times New Roman', serif" font-size="22.4" fill="#000"><tspan x="307.0">1</tspan><tspan x="327.8">2</tspan></text>
<text transform="translate(317.0 636.0) scale(1.5 1.5)" font-family="'Liberation Serif', 'Times New Roman', serif" font-size="22.4" fill="#000">/</text>
<path d="M322.2 649.3L339.8 666.1M333.2 665.6Q337.6 665.5 339.8 666.1Q338.9 663.2 339.2 659.4" fill="none" stroke="#000" stroke-width="1.1"/>
</svg></body></html>
